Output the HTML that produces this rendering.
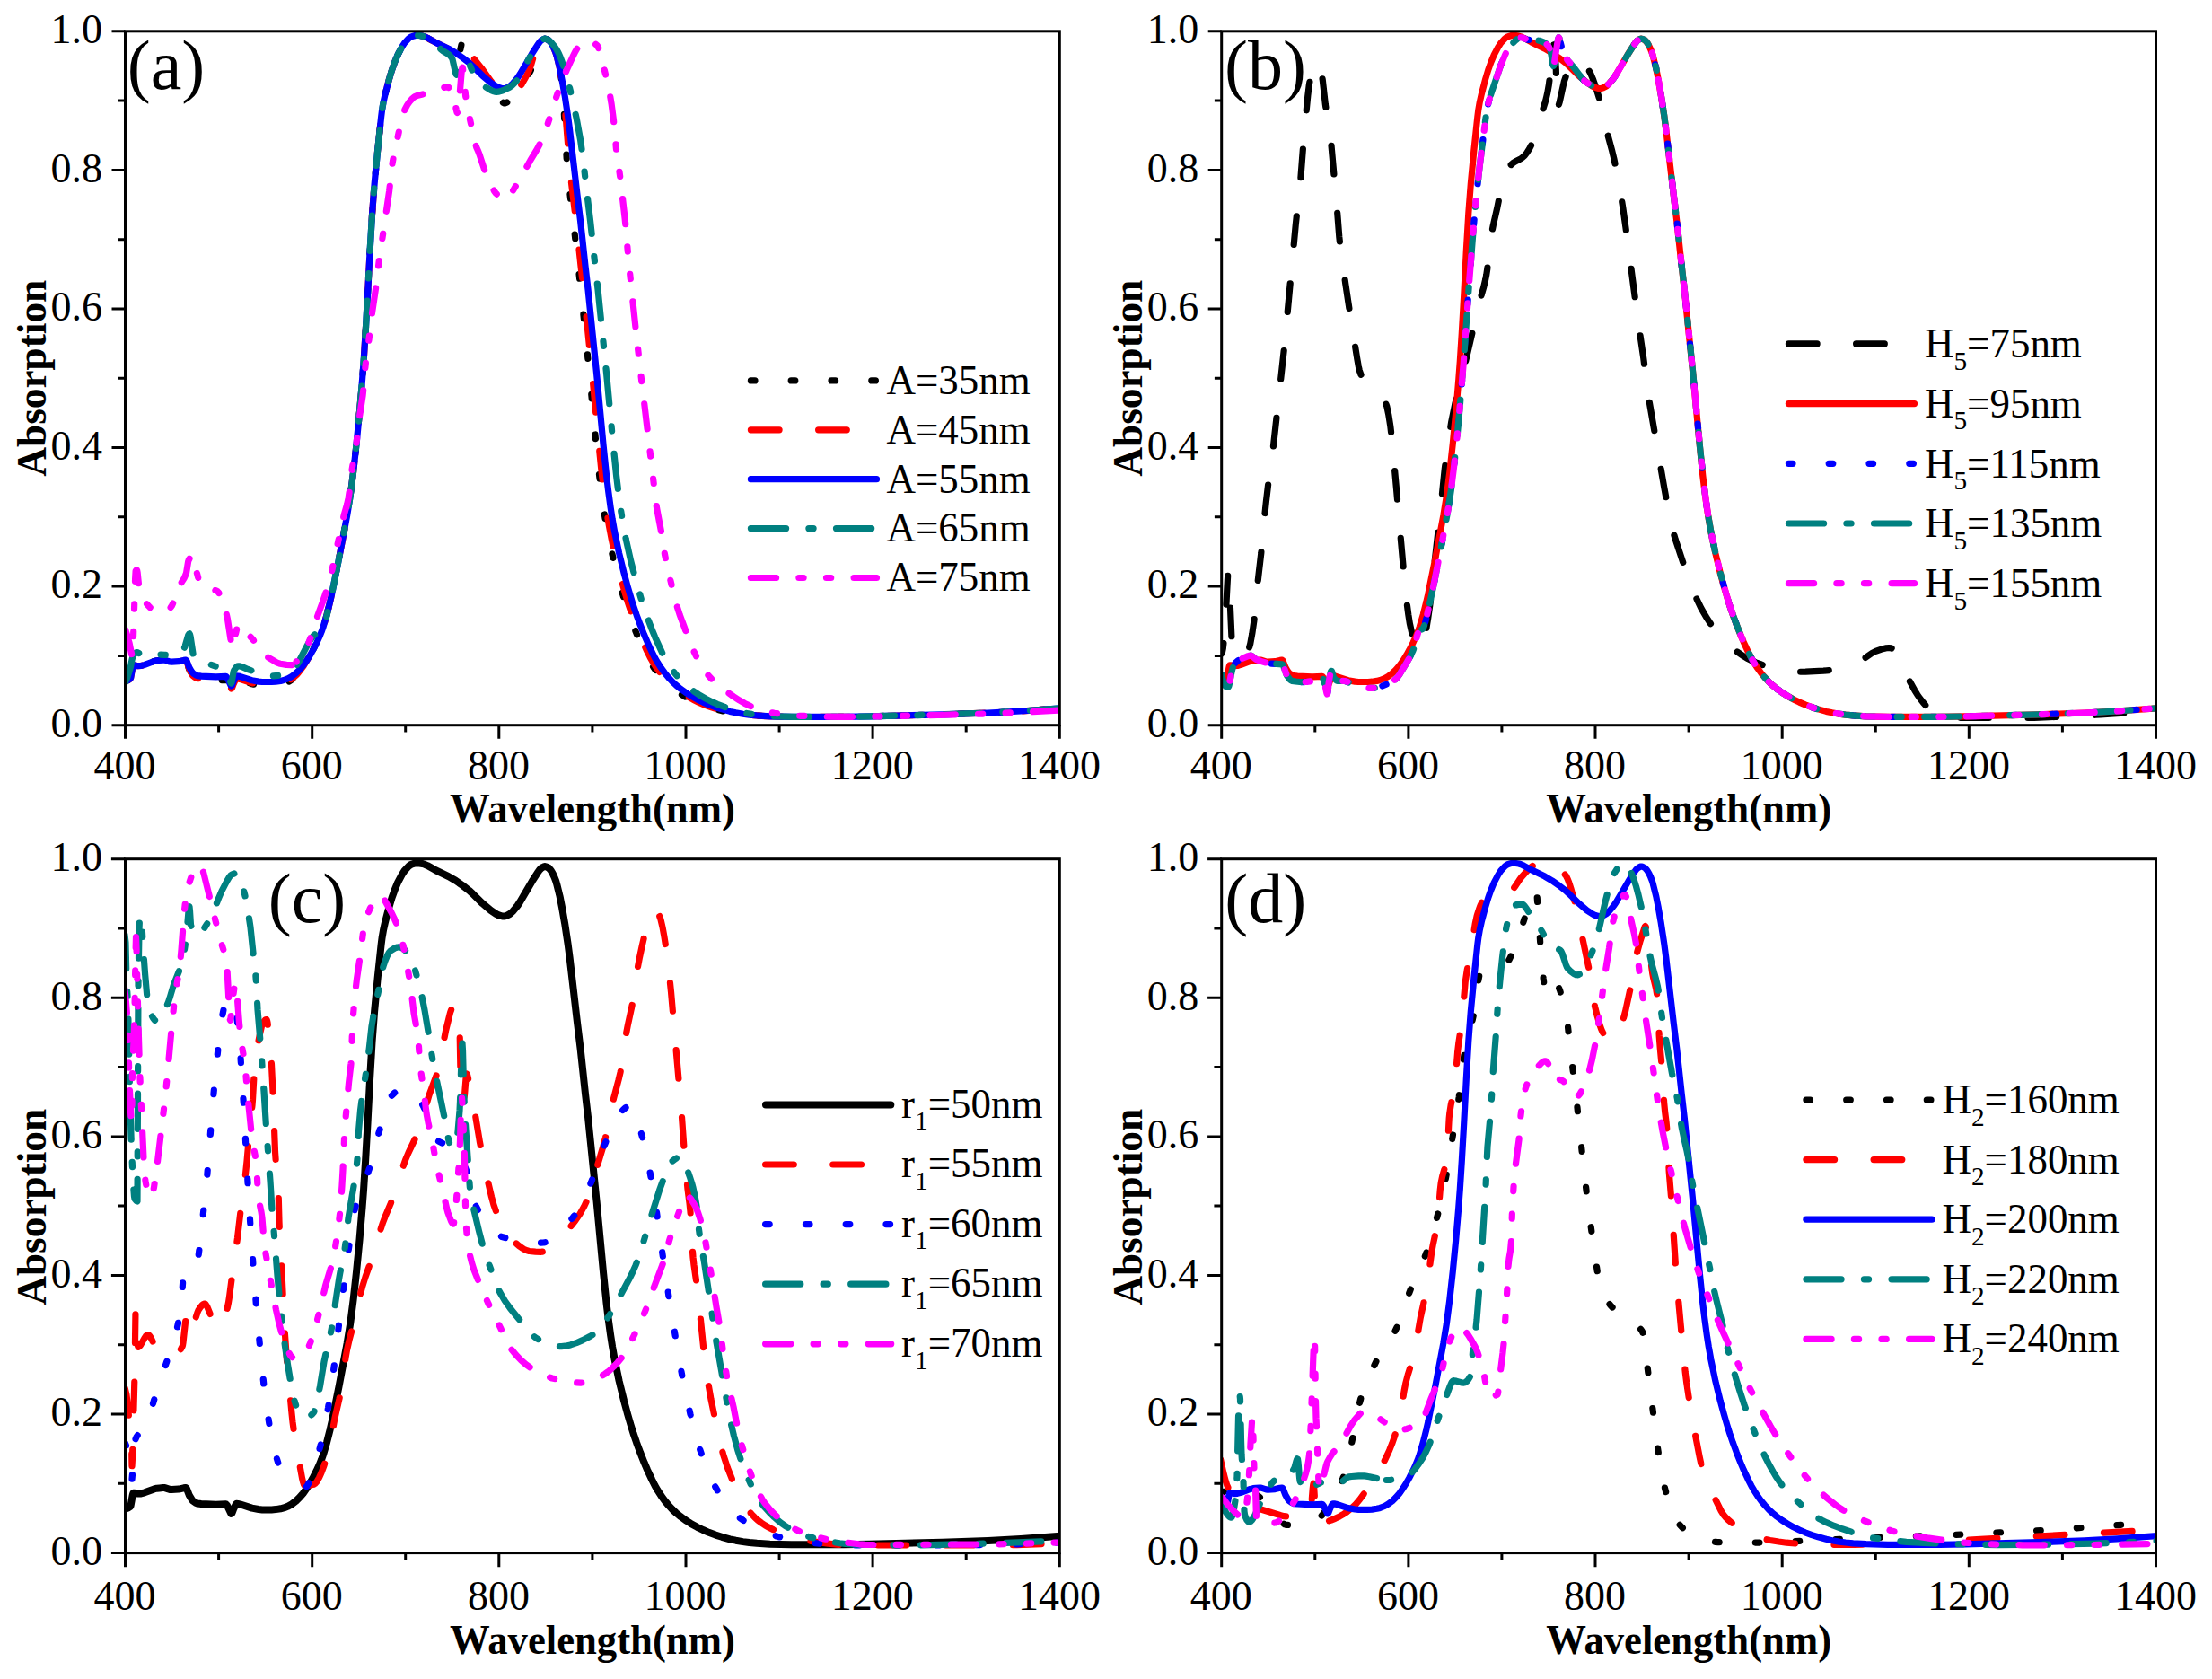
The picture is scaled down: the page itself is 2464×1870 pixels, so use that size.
<!DOCTYPE html>
<html lang="en"><head><meta charset="utf-8"><title>Absorption spectra</title>
<style>
html,body{margin:0;padding:0;background:#fff}
body{width:2464px;height:1870px;overflow:hidden}
svg{display:block}
.tx text{font-family:"Liberation Serif",serif;font-size:46px;fill:#000}
.tx text.bd{font-weight:bold}
.tx text.pl{font-size:78px}
.tx .sb{font-size:30px}
</style></head><body>
<svg width="2464" height="1870" viewBox="0 0 2464 1870">
<rect width="2464" height="1870" fill="#fff"/>
<clipPath id="cpa"><rect x="139.5" y="34.8" width="1040.8" height="772.9"/></clipPath>
<g clip-path="url(#cpa)" fill="none" stroke-linecap="round" stroke-linejoin="round">
<path d="M139.6 758.4 141.1 758.3 143.1 757.4 145.1 756 145.6 755 147.6 744.1 148.1 741.9 148.6 740.8 150.1 740.9 153.6 741.7 157.1 741.5 161.1 740.4 169.1 737.3 172.1 736.3 174.6 735.8 179.1 735.3 183.6 735.2 188.6 736.8 190.6 737.2 194.6 737 204.6 736.1 207.1 736 207.6 736.5 208.1 737.5 210.6 745.2 213.6 751.9 214.6 753.4 217.1 755.4 218.6 756.2 220.1 756.7 223.6 757.1 240.6 757.9 251.6 757.4 252.1 757.7 253.1 759 257.1 767.4 257.6 768 258.1 767.8 258.6 767 260.1 763 262.1 758.7 263.1 757.1 263.6 756.9 265.1 757 267.1 757.4 280.6 761.7 286.6 762.9 290.1 763.4 305.1 763.3 312.6 762.4 316.1 761.5 319.6 760.2 322.1 759 325.1 757 328.1 754.5 330.1 752.5 332.6 749.7 338.1 742.1 347.6 726 354.1 713.1 356.6 707.4 359.1 701 361.1 695 363.1 688.1 368.1 668.4 372.1 649.7 382.1 598.7 387.1 571.4 389.6 556.2 393.1 530.1 396.6 498.9 400.1 463.6 403.1 428.8 405.1 402.5 407.1 371.2 409.6 327.7 412.1 279.7 414.6 237.7 417.1 204.9 420.6 168.1 424.6 130.3 425.6 122.4 427.1 113.7 429.1 104.8 433.6 87.7 436.6 77.8 439.6 69.4 442.1 63.3 444.1 59 447.6 52.5 450.1 48.6 453.6 44.5 456.1 42.2 458.1 40.9 461.1 39.8 463.6 39.3 466.1 39.4 470.6 40.1 473.6 41.1 477.1 42.8 484.6 46.9 503.6 56.4 508.1 58.9 510.6 59.8 511.6 59.7 512.1 58.6 514.1 49.2 514.6 47.7 515.1 47.2 515.6 47.4 516.1 47.9 517.1 49.7 520.1 57.4 521.6 60.2 524.1 63.3 530.6 70 535.1 75.7 539.1 81.1 543.1 87.2 551.1 101.3 558.1 112 559.6 113.7 560.6 114.5 561.6 114.9 562.6 114.9 564.1 114.4 566.1 113 572.6 106 575.1 102.5 581.1 93.2 586.6 85.9 589.1 82.3 591.1 78.7 593.1 74.6 597.1 64.7 598.6 60.4 601.6 48.1 602.6 45.5 603.1 44.9 604.6 43.9 606.1 43.3 607.1 43.2 608.6 43.5 610.6 44.4 612.1 45.7 614.6 49.1 617.6 55.2 619.6 60.6 621.6 67.7 623.6 76.9 625.1 86.5 626.1 95.5 628.1 122.9 629.6 146.9 631.6 184.2 632.6 196.8 639.1 250.6 644.1 297.2 647.1 323 656.6 416.2 664.1 496 667.1 525.4 671.1 557.9 673.1 571.7 675.6 586.7 678.1 599.8 680.6 611.5 686.1 634.5 693.6 661.8 696.6 671.6 700.1 682.1 704.1 693.1 709.1 705.8 713.1 715.2 717.6 724.9 721.1 731.9 724.1 737.2 728.1 743.5 732.6 749.7 737.1 755.1 741.6 759.9 745.6 763.6 750.6 767.6 756.1 771.5 762.1 775.3 769.1 779.2 775.6 782.4 782.6 785.3 789.6 787.8 795.6 789.6 803.6 791.6 811.1 793.2 818.6 794.5 827.6 795.7 836.1 796.5 851.1 797.6 879.1 798.4 938.6 798.4 963.6 798 1048.1 795.8 1100.1 794 1136.6 792 1181 788.8" stroke="#000000" stroke-width="7.2" stroke-dasharray="4.6 40.2"/>
<path d="M139.6 758.4 141.1 758.3 143.1 757.4 145.1 756 145.6 755 147.6 744.1 148.1 741.9 148.6 740.8 150.1 740.9 153.6 741.7 157.1 741.5 161.1 740.4 169.1 737.3 172.1 736.3 174.6 735.8 178.6 735.4 183.6 735.2 188.6 736.8 190.6 737.2 199.1 736.7 204.6 735.9 207.1 735.8 207.6 736.3 208.1 737.2 210.6 744.7 213.1 750 214.6 752.4 217.1 754.3 218.6 755.2 220.1 755.7 223.6 756.1 240.6 756.9 251.6 756.4 252.1 756.7 253.1 758 257.1 766.4 257.6 767 258.1 766.8 258.6 766 260.1 762 262.1 757.7 263.1 756.1 263.6 755.9 265.1 756 267.1 756.4 280.6 760.7 286.6 761.9 290.1 762.4 305.1 762.3 312.6 761.4 316.1 760.5 320.1 759 322.6 757.7 325.1 756 328.6 753.2 330.6 751.3 333.1 748.4 338.6 741 347.6 726 354.1 713.1 356.6 707.4 359.1 701 361.1 695 363.1 688.1 368.1 668.4 372.1 649.7 382.1 598.7 387.1 571.4 389.6 556.2 393.1 530.1 396.6 498.9 400.1 463.6 403.1 428.8 405.1 402.5 407.1 371.2 409.6 327.7 412.1 279.7 414.6 237.7 417.1 204.9 420.6 168.1 424.6 130.3 425.6 122.4 427.1 113.7 429.1 104.8 433.6 87.7 436.6 77.8 439.6 69.4 442.1 63.3 444.1 59 447.6 52.5 450.1 48.6 453.6 44.5 456.1 42.2 458.1 40.9 461.6 39.7 464.1 39.3 466.6 39.4 470.6 40.1 473.6 41.1 477.1 42.8 484.6 46.9 503.6 56.4 506.6 58.3 508.1 58.9 508.6 58.9 509.1 58.6 509.6 57.6 511.6 51.2 512.1 50.4 513.1 50.4 514.6 51.1 516.6 52.8 527.1 64.3 536.6 76.2 546.6 90.1 554.6 99.4 557.6 102.1 561.1 104.2 564.6 105.7 567.1 105.9 568.6 105.5 570.6 104.5 576.1 100.1 578.6 97.4 581.6 93.1 585.6 86 589.6 77.9 591.6 72.2 596.1 56.9 597.6 52.6 598.6 50.5 600.6 47.4 602.6 45.3 605.1 43.7 606.1 43.3 607.1 43.2 608.6 43.5 610.6 44.4 611.6 45.1 613.1 46.9 615.6 50.9 618.6 57.7 620.6 64 623.1 74.3 624.6 82.3 626.1 92.1 628.1 109.7 630.6 135.3 634.6 185.6 635.6 196.1 642.1 250.6 647.1 297.2 650.1 323 659.6 416.2 666.6 490.7 669.6 520.8 671.6 538.5 674.1 557.9 676.1 571.7 678.6 586.7 681.1 599.8 683.6 611.5 689.1 634.5 696.6 661.8 699.6 671.6 703.1 682.1 707.1 693.1 712.1 705.8 716.1 715.2 720.6 724.9 724.1 731.9 727.1 737.2 731.1 743.5 735.6 749.7 740.1 755.1 744.6 759.9 748.6 763.6 753.6 767.6 759.1 771.5 765.1 775.3 772.1 779.2 778.6 782.4 785.6 785.3 792.6 787.8 799.1 789.8 807.6 792 814.6 793.5 822.6 794.8 830.6 795.9 839.1 796.7 852.1 797.6 880.6 798.4 939.1 798.4 965.6 798 1048.6 795.8 1100.6 794 1137.1 792 1181 788.8" stroke="#ff0000" stroke-width="7.2" stroke-dasharray="31.7 43.5"/>
<path d="M139.6 758.4 141.1 758.3 143.1 757.4 145.1 756 145.6 755 147.6 744.1 148.1 741.9 148.6 740.8 150.1 740.9 153.6 741.7 157.1 741.5 161.1 740.4 171.6 736.5 174.6 735.8 177.6 735.5 181.6 735.2 183.6 735.2 189.1 737 191.1 737.2 199.1 736.7 204.6 735.4 206.6 735.2 207.1 735.2 207.6 735.6 208.1 736.5 210.6 743 213.6 748.2 215.1 749.9 217.6 751.6 220.1 752.7 224.1 753.1 240.6 753.9 251.6 753.4 252.1 753.7 253.1 755 257.1 763.4 257.6 764 258.1 763.8 258.6 763 260.1 759 262.1 754.7 263.1 753.1 263.6 752.9 265.1 753 267.1 753.4 280.6 757.7 288.1 759.1 292.1 759.5 302.6 759.5 307.1 759.2 312.6 758.4 316.1 757.5 321.1 755.6 325.1 753.3 329.6 749.9 333.6 746 337.6 741.4 341.6 735.8 345.6 729.4 348.6 724.1 352.6 716.3 355.6 709.8 358.1 703.7 360.1 698.1 364.1 684.4 367.6 670.5 369.6 661.7 377.6 622.1 386.6 574.3 390.1 552.8 393.6 525.9 397.1 494.1 400.6 458.1 403.6 422.5 405.1 402.5 407.1 371.2 409.6 327.7 412.1 279.7 414.6 237.7 417.1 204.9 420.6 168.1 424.6 130.3 425.6 122.4 427.1 113.7 429.1 104.8 433.6 87.7 436.6 77.8 439.6 69.4 443.1 61 447.6 52.5 450.6 47.9 455.1 43 456.6 41.8 458.1 40.9 462.6 39.5 465.6 39.3 470.6 40.1 473.1 40.9 476.1 42.2 484.6 46.9 499.6 54.2 507.6 58.9 515.1 64.1 522.6 69.9 526.6 73.6 537.6 84.4 546.6 92 552.1 95.7 555.1 97.3 559.6 98.6 562.1 98.6 564.6 97.8 568.1 96 571.1 93.2 574.6 89.1 576.6 86.6 579.1 82.8 592.6 59.8 598.6 50.4 601.1 46.9 602.6 45.3 605.1 43.7 606.1 43.3 607.1 43.2 609.1 43.7 611.1 44.7 612.6 46.3 614.1 48.3 615.6 50.9 617.6 55.2 619.1 59.1 620.1 62.4 623.6 76.5 626.1 89.1 629.1 106.3 632.6 129.4 634.6 144.6 643.1 217.7 646.6 246.2 652.1 297.2 655.1 323 664.6 416.2 672.1 496 675.6 529.9 677.6 546.5 680.1 565 682.1 578 684.6 592.1 689.6 616 695.1 638.4 699.1 653.1 702.6 665.1 705.6 674.7 709.1 684.9 713.1 695.7 717.6 707 721.1 715.2 726.1 725.9 729.6 732.8 732.6 738 736.6 744.2 740.6 749.7 744.6 754.5 749.1 759.4 753.1 763.1 758.1 767.2 763.6 771.2 769.6 775 776.6 778.9 783.1 782.1 789.6 784.9 797.1 787.7 804.1 789.9 813.1 792.4 819.6 793.8 827.6 795.2 834.6 796.1 843.1 796.9 857.6 797.8 881.6 798.4 939.6 798.4 968.1 797.9 1049.6 795.8 1100.6 794 1137.1 792 1181 788.8" stroke="#0000ff" stroke-width="7.2"/>
<path d="M139.6 760 142.1 753.8 144.6 745.8 145.6 742 147.1 734.4 148.1 730.8 149.6 728.5 151.1 727 152.1 726.6 153.6 726.9 155.1 727.7 158.1 729.8 160.1 730.6 164.6 730.4 174.6 729.3 179.1 729.1 183.1 729.3 192.6 730.5 195.1 730.6 196.6 730.3 198.6 729.2 200.6 727.5 202.6 725.4 205.1 722.2 206.1 719.8 209.6 707.7 210.6 706 211.1 705.8 211.6 706.8 212.1 708.8 215.1 728.5 215.6 730.6 216.1 731.7 218.6 734.1 220.1 735.1 222.1 736.1 227.6 738.2 234.1 740 241.6 742.6 245.6 744.3 249.6 746.7 252.1 748.9 254.6 752 255.1 753.3 256.6 759.2 257.1 760.5 257.6 761 258.1 759.9 260.1 748.4 260.6 746.8 263.1 743.2 264.1 742.3 265.1 741.8 267.1 741.9 269.1 742.4 276.1 745.5 288.1 749.8 299.1 752.4 303.1 752.9 307.1 752.7 311.6 752.1 317.6 750.8 320.6 749.7 323.6 748 326.1 746.3 328.1 744.2 330.1 741.5 332.6 737.5 342.6 718.2 345.1 713.8 347.1 710.8 349.1 708.2 350.6 706.8 352.1 705.7 357.1 702.7 358.6 701.3 359.6 700.1 361.1 696.7 363.1 689.8 368.6 666.2 372.1 649.7 380.1 609.3 386.6 574.3 389.6 556.2 392.1 538.1 395.1 512.8 398.6 479.3 401.6 446.8 404.1 416 405.6 395.1 407.6 362.7 412.1 279.7 414.6 237.7 416.6 210.8 420.1 173 424.6 130.3 425.6 122.4 426.6 116.3 428.6 106.9 433.1 89.5 436.1 79.3 439.6 69.4 443.1 61 447.6 52.5 449.6 49.3 451.1 47.3 455.6 42.6 457.1 41.5 458.6 40.7 461.6 39.7 463.6 39.3 467.1 39.5 472.6 40.6 475.6 41.6 478.6 43 481.6 44.7 485.1 47.1 486.6 48.7 489.6 53.2 491.1 54.9 493.6 56.8 499.1 60.1 500.6 61.3 502.1 62.9 503.6 65 504.1 66.4 507.1 79.8 508.1 82.8 508.6 83.3 509.1 82.9 509.6 81.3 511.1 73.6 512.1 70 513.6 69.2 516.1 68.4 518.6 68 520.1 68.1 521.6 69.5 523.1 72.1 527.6 82.8 529.1 85.9 530.6 88.1 533.6 91.3 536.1 93.6 539.1 95.9 547.1 100.6 549.1 101.5 551.1 102.1 553.1 102.3 555.1 102.2 557.6 101.6 560.1 100.8 567.1 97.5 570.6 95 574.1 91.4 576.1 89 577.6 86.8 586.1 70.9 592.6 59.8 598.1 51.1 601.1 46.9 602.6 45.3 605.1 43.7 606.1 43.3 607.1 43.2 609.1 43.7 611.6 45 614.6 47.9 617.6 51.6 620.1 55.3 622.1 58.9 624.1 63.4 626.1 68.8 628.6 76.2 630.6 82.9 633.6 94 636.6 106.2 642.1 131.5 646.6 156 649.1 173.8 654.1 217.7 657.6 246.2 663.1 297.2 666.1 323 675.6 416.2 683.1 496 686.6 529.9 689.1 550.4 691.6 568.4 694.1 583.9 697.1 599.8 702.6 624.5 708.6 647.7 715.1 670 721.1 687.7 725.6 699.6 729.6 709.4 737.6 727 740.6 732.8 743.6 738 747.6 744.2 751.6 749.7 755.6 754.5 760.1 759.4 764.1 763.1 768.6 766.8 774.1 770.8 779.6 774.4 786.1 778.1 792.6 781.4 799.1 784.3 806.6 787.2 814.1 789.7 824.1 792.7 829.1 793.9 837.1 795.4 851.1 797.1 866.1 797.9 884.6 798.4 940.6 798.4 971.1 797.9 1050.1 795.8 1101.1 794 1137.1 792 1181 788.8" stroke="#008080" stroke-width="7.2" stroke-dasharray="39.2 25.3 5.2 25.4"/>
<path d="M139.6 701.2 141.6 707.4 144.1 716.2 146.6 728.6 147.1 730.3 147.6 731.1 148.1 723.3 150.6 644.8 151.1 636.1 151.6 635.2 152.1 635 152.6 635.1 153.1 637.4 154.6 652 155.1 655.8 155.6 657.8 157.6 663.4 160.1 668 162.6 671.5 165.1 674.5 167.1 676.5 169.1 678 173.1 679.9 176.6 681.1 179.6 681.5 182.1 681.2 185.1 680 188.6 677.8 190.1 676.6 191.6 674.4 193.6 669.8 197.6 658.2 199.6 653.2 201.1 650.3 205.1 644.1 207.1 639.5 207.6 637.9 209.6 625.6 210.1 624 212.1 620.2 213.1 619.1 214.1 618.7 214.6 619.3 215.6 622.4 217.6 631.6 221.1 644.8 222.1 647.8 223.1 649.6 225.6 651.7 228.1 653.1 234.6 655.7 239.6 657.3 242.1 658.5 243.6 660 245.6 663.8 249.6 674.1 252.1 683.1 253.6 690.3 257.6 716.3 258.6 720.9 259.1 721.5 259.6 720.6 260.1 718.6 261.6 709.7 264.1 698.9 265.1 696.2 265.6 695.7 266.1 695.7 267.1 696.2 268.1 697 273.6 704.1 279.6 709.9 282.1 712.7 284.1 715.7 288.1 722.7 290.1 725.6 292.6 728 296.1 730.6 307.1 737.2 309.6 738.4 312.1 739.2 319.1 740.4 324.6 740.7 325.6 740.5 327.1 739.7 329.6 737.5" stroke="#ff00ff" stroke-width="7.2" stroke-dasharray="28.2 25.3 5.2 25.4 5.2 25.4"/>
<path d="M330.1 736.9 335.6 730.3 338.1 726.7 341.1 721.5 344.1 715.3 346.6 708.5 352.6 689.2 359.6 670 362.6 661.1 366.6 647.6 370.1 634.1 381.1 582.4 383.1 574.1 386.6 561.8 388.1 554.9 389.1 548.2 392.1 523 397.1 492.8 400.6 463.4 404.1 440.4 405.1 430.7 406.6 411.6 407.6 402.4 411.1 377.4 414.6 348 418.6 320.9 422.1 291.6 433.6 212.9 437.1 181.8 439.1 170.4 443.1 152.6 447.1 133.6 448.6 128 451.1 121.7 453.6 117 456.1 113.4 459.6 109.5 461.1 108.3 462.6 107.3 465.6 106.2 479.1 103 485.1 101.5 487.6 100.5 494.1 97.6 496.1 97.1 498.1 96.9 499.6 97.3 501.6 98.7 504.1 101.3 504.6 102.3 505.6 106.6 508.1 121.6 509.1 125.3 509.6 125.8 510.1 124.4 510.6 120.8 512.6 99.4 514.1 80.6 514.6 76.5 515.1 75.2 515.6 76.7 516.1 79.9 518.6 106.6 520.1 116.5 522.1 126.6 528.1 154 530.6 163.7 532.6 168.2 534.1 172.1 540.6 192 545.1 202.3 548.6 209.4 550.6 212.8 552.1 214.9 556.6 219.6 558.6 221.2 560.1 222 561.6 222.3 562.6 222.2 564.1 221.3 565.6 219.8 569.1 215.7 571.6 212 579.6 198.5 590.6 178.9 598.6 165.6 603.1 157.1 605.1 152.6 607.6 145.9 620.1 106.9 624.6 94.3 631.1 78.3 638.1 62.9 640.6 57.9 642.6 54.5 644.1 52.4 647.6 49.2 650.1 47.3 652.1 46.2 654.1 45.6 655.6 45.5 657.1 45.7 659.1 46.4 661.1 47.5 663.1 48.9 665.1 50.5 665.6 51.2 667.1 54.3 669.6 62.7 676.6 91.6 679.1 103.7 681.1 115.6 683.6 134.8 686.6 167.3 690.6 195.8 696.1 243.3 697.1 253.3 699.1 277.8 701.6 304.1 709.1 375.5 714.6 423.4 726.1 519.9 730.1 555.2 731.6 566 736.6 592.4 740.6 618.1 743.6 632.6 751.1 664.2 753.6 673.6 757.1 684.5 767.6 712.7 772.1 723.8 775.6 731 779.1 737.5 782.1 742.7 785.1 747.2 788.1 751.2 792.6 756.1 797.1 760.5 801.6 764.4 808.1 769.3 817.1 775.7 823.6 779.9 829.6 783.4 834.1 785.6 838.1 787.3 845.6 789.9 852.6 792 857.6 793.3 862.6 794.3 876.6 796.1 891.1 797.3 917.1 798.2 936.1 798.4 963.6 798.2 1044.6 796.5 1099.1 795 1136.1 793.5 1181 791" stroke="#ff00ff" stroke-width="7.2" stroke-dasharray="28.2 25.3 5.2 25.4 5.2 25.4" stroke-dashoffset="58.6"/>
</g>
<clipPath id="cpb"><rect x="1360.7" y="34.8" width="1040.8" height="772.9"/></clipPath>
<g clip-path="url(#cpb)" fill="none" stroke-linecap="round" stroke-linejoin="round">
<path d="M1360.8 727.9 1361.3 727.2 1362.3 722.3 1364.3 704.1 1367.3 647 1367.8 639.3 1368.3 637.6 1368.8 641.9 1369.3 650.3 1372.3 718.2 1372.8 722.7 1373.8 726 1375.3 729.1 1375.8 729.6 1376.8 730.2 1380.3 731 1383.8 731.3 1384.8 731.1 1386.3 730.2 1387.3 729.1 1388.8 726.9 1391.3 722.2 1392.8 716.7 1394.8 705.7 1396.8 692.1 1397.8 683.8 1400.8 650.4 1404.8 616 1408.3 578.4 1410.3 559.4 1412.8 538.4 1418.3 498.4 1430.3 389.6 1443.3 250 1448.8 199.3 1452.8 147.7 1456.8 106.6 1458.3 94.4 1459.8 86.7 1462.3 76.1 1463.3 72.9 1464.3 70.7 1465.3 69.6 1465.8 69.5 1466.3 69.7 1467.3 70.6 1468.3 72.3 1469.8 75.9 1471.3 80.5 1472.8 86.1 1473.3 89.1 1476.3 115.9 1480.8 144.4 1482.8 159.8 1489.3 231.9 1491.8 263.8 1493.3 277.4 1498.8 316.2 1504.3 352.8 1511.8 399.8 1513.3 408.2 1514.3 412.6 1515.8 416.9 1518.3 422 1520.8 425.8 1523.3 429 1526.8 432.9 1534.3 439.3 1539.8 444.5 1541.3 446.1 1542.8 448.1 1543.8 449.9 1544.8 452.6 1546.8 461.9 1548.8 474.7 1550.3 487.9 1555.8 547.8 1559.3 588.9 1564.8 649.9 1567.3 673.1 1568.8 684.5 1570.3 694.1 1573.3 707.7 1574.8 713.6 1576.3 718.4 1577.8 721.3 1578.3 721.8 1578.8 722 1579.3 721.9 1580.3 721.4 1581.3 720.4 1582.3 718.9 1584.3 714.9 1586.8 708.7 1587.8 705 1588.8 700.1 1590.8 687.8 1592.8 674 1594.3 661.8 1598.3 624.2 1604.8 566.4 1609.3 522.1 1613.3 491.3 1616.8 469.4 1620.8 450 1629.8 414.3 1646.3 343.6 1648.8 333.5 1652.8 319.4 1654.8 310.9 1655.8 305.8 1656.8 299.1 1659.8 271.3 1661.3 261.1 1663.3 251 1667.8 231.4 1673.3 203.5 1674.8 197.6 1675.8 194.7 1677.8 190.7 1680.3 186.8 1682.8 183.9 1685.3 181.6 1687.8 180 1694.3 176.6 1696.3 175.1 1698.3 173.3 1700.8 170.1 1703.8 165.3 1706.8 159.5 1708.3 155.7 1710.3 149.5 1715.3 132.3 1720.8 115.2 1722.3 109.7 1723.8 103.1 1725.3 94.6 1727.3 79 1728.3 70.2 1729.8 51.6 1730.3 48.3 1730.8 48.7 1731.3 51.5 1732.8 69.2 1733.3 77.2 1734.3 110.9 1734.8 120.3 1735.3 119.9 1735.8 118.5 1737.3 113.4 1742.3 90.8 1745.8 80.7 1748.3 75.3 1751.3 70.8 1752.8 68.8 1754.3 67.3 1755.3 66.6 1756.3 66.2 1757.8 66.3 1759.3 66.8 1761.3 67.9 1763.8 69.7 1765.8 71.7 1768.3 75.4 1771.8 81.9 1774.3 87.8 1777.8 97.8 1781.3 109.1 1785.3 124.5 1790.8 149.8 1795.8 168.3 1797.8 176.6 1801.3 193.5 1805.3 215.6 1807.8 231.4 1810.8 252.4 1825.3 362.1 1830.8 399.3 1834.8 431.4 1836.3 442.1 1853.8 543.2 1858.8 570.1 1861.8 584.5 1863.8 592.4 1866.3 600.9 1878.8 638.5 1883.8 652.6 1888.8 664.6 1894.8 677.1 1900.3 686.8 1905.3 694.4 1909.8 700.7 1914.3 706.6 1918.8 711.9 1922.3 715.5 1925.3 718.3 1934.3 725.4 1942.8 731.2 1947.3 733.8 1951.3 735.8 1955.8 737.8 1961.8 740 1970.3 742.9 1977.3 745.1 1986.8 747.3 1991.3 748 1995.3 748.3 2011.3 748.2 2031.3 747.2 2038.3 746.5 2045.3 745.1 2050.8 743.6 2057.3 741.5 2072.3 735.8 2076.3 733.6 2085.3 727.4 2089.3 725.4 2095.8 723.1 2100.3 721.9 2104.3 721.5 2106.8 721.9 2109.3 723.1 2111.8 724.9 2115.8 728.7 2117.3 730.8 2118.3 732.8 2119.8 736.6 2124.8 752.2 2127.3 758.7 2132.8 768.8 2135.8 773.7 2138.8 778 2142.3 782.5 2147.8 788.7 2150.3 791.4 2152.8 793.7 2154.8 795.1 2156.8 796.1 2161.8 797.2 2173.8 798.7 2186.3 799.5 2251.3 799.5 2265.8 799.3 2289.8 798.4 2339.8 796 2369.8 794 2402.5 791.5" stroke="#000000" stroke-width="7.2" stroke-dasharray="31.7 43.5" stroke-dashoffset="20"/>
<path d="M1360.8 758.4 1362.3 758.3 1364.3 757.4 1366.3 756 1366.8 755 1368.8 744.1 1369.3 741.9 1369.8 740.8 1371.3 740.9 1374.8 741.7 1378.3 741.5 1382.3 740.4 1392.8 736.5 1395.8 735.8 1398.8 735.5 1402.8 735.2 1404.8 735.2 1410.3 737 1412.3 737.2 1420.3 736.7 1425.8 735.4 1427.8 735.2 1428.3 735.2 1428.8 735.6 1429.3 736.5 1431.8 743 1434.8 748.2 1436.3 749.9 1438.8 751.6 1441.3 752.7 1445.3 753.1 1461.8 753.9 1472.8 753.4 1473.3 753.7 1474.3 755 1478.3 763.4 1478.8 764 1479.3 763.8 1479.8 763 1481.3 759 1483.3 754.7 1484.3 753.1 1484.8 752.9 1486.3 753 1488.3 753.4 1501.8 757.7 1509.3 759.1 1513.3 759.5 1523.8 759.5 1528.3 759.2 1533.8 758.4 1537.3 757.5 1542.3 755.6 1546.3 753.3 1550.8 749.9 1554.8 746 1558.8 741.4 1562.8 735.8 1566.8 729.4 1569.8 724.1 1573.8 716.3 1576.8 709.8 1579.3 703.7 1581.3 698.1 1585.3 684.4 1588.8 670.5 1590.8 661.7 1598.8 622.1 1607.8 574.3 1611.3 552.8 1614.8 525.9 1618.3 494.1 1621.8 458.1 1624.8 422.5 1626.3 402.5 1628.3 371.2 1630.8 327.7 1633.3 279.7 1635.8 237.7 1638.3 204.9 1641.8 168.1 1645.8 130.3 1646.8 122.4 1648.3 113.7 1650.3 104.8 1654.8 87.7 1657.8 77.8 1660.8 69.4 1664.3 61 1668.8 52.5 1671.8 47.9 1676.3 43 1677.8 41.8 1679.3 40.9 1683.8 39.5 1686.8 39.3 1691.8 40.1 1694.3 40.9 1697.3 42.2 1705.8 46.9 1720.8 54.2 1728.8 58.9 1736.3 64.1 1743.8 69.9 1747.8 73.6 1758.8 84.4 1767.8 92 1773.3 95.7 1776.3 97.3 1780.8 98.6 1783.3 98.6 1785.8 97.8 1789.3 96 1792.3 93.2 1795.8 89.1 1797.8 86.6 1800.3 82.8 1813.8 59.8 1819.8 50.4 1822.3 46.9 1823.8 45.3 1826.3 43.7 1827.3 43.3 1828.3 43.2 1830.3 43.7 1832.3 44.7 1833.8 46.3 1835.3 48.3 1836.8 50.9 1838.8 55.2 1840.3 59.1 1841.3 62.4 1844.8 76.5 1847.3 89.1 1850.3 106.3 1853.8 129.4 1855.8 144.6 1864.3 217.7 1867.8 246.2 1873.3 297.2 1876.3 323 1885.8 416.2 1893.3 496 1896.8 529.9 1898.8 546.5 1901.3 565 1903.3 578 1905.8 592.1 1910.8 616 1916.3 638.4 1920.3 653.1 1923.8 665.1 1926.8 674.7 1930.3 684.9 1934.3 695.7 1938.8 707 1942.3 715.2 1947.3 725.9 1950.8 732.8 1953.8 738 1957.8 744.2 1961.8 749.7 1965.8 754.5 1970.3 759.4 1974.3 763.1 1979.3 767.2 1984.8 771.2 1990.8 775 1997.8 778.9 2004.3 782.1 2010.8 784.9 2018.3 787.7 2025.3 789.9 2034.3 792.4 2040.8 793.8 2048.8 795.2 2055.8 796.1 2064.3 796.9 2078.8 797.8 2102.8 798.4 2160.8 798.4 2189.3 797.9 2270.8 795.8 2321.8 794 2358.3 792 2402.2 788.8" stroke="#ff0000" stroke-width="7.2"/>
<path d="M1360.8 751.7 1362.3 758.4 1363.8 762.4 1364.8 763.9 1365.8 764.8 1366.8 765.1 1368.3 765.2 1368.8 764.2 1369.3 762.4 1371.3 751.6 1372.8 745.2 1373.8 741.6 1374.3 740.4 1377.3 737.2 1379.3 735.6 1381.3 734.4 1390.3 730.7 1391.8 730.3 1393.3 730.2 1394.8 730.8 1398.3 733.7 1399.8 734.7 1404.3 736.4 1408.3 737.6 1412.3 738.6 1415.8 739.1 1428.3 739.8 1428.8 740.2 1429.8 742.1 1432.8 750.8 1433.8 752.8 1436.8 756.7 1438.3 758 1439.3 758.4 1443.3 759 1447.8 759.5 1452.3 759.6 1455.8 759.4 1463.8 758.3 1470.8 756 1473.3 755.6 1473.8 755.9 1474.8 758.7 1475.8 762.3 1477.8 771.8 1478.3 773 1478.8 772.4 1480.3 759.2 1481.3 753.3 1482.3 748.5 1482.8 747.3 1483.3 747.3 1483.8 748.4 1485.3 753.8 1485.8 755 1487.8 757.2 1489.3 758.2 1490.3 758.4 1497.8 758.5 1499.3 758.8 1501.8 759.7 1507.3 762.5 1513.8 765 1516.8 766 1519.3 766.4 1532.3 766.3 1534.8 765.8 1537.8 764.8 1546.8 761.2 1551.8 758.4 1554.3 756.7 1555.8 755.3 1558.8 751.3 1567.8 736.6 1570.8 731.1 1573.8 725 1575.8 719.8 1578.8 707.3 1580.3 702.7 1580.8 702 1581.3 701.6 1583.8 700.9 1584.8 700.3 1585.8 698.8 1587.3 694.5 1588.8 688.7 1594.3 664.3 1597.3 650 1606.3 604.4 1613.3 566 1616.3 546.2 1619.3 522.2 1622.3 494.6 1625.3 463.4 1630.3 403.9 1636.3 318.1 1641.3 254 1644.3 220.6 1648.3 184.3 1654.8 132.6 1656.8 119.8 1658.3 113.3 1660.3 106.3 1671.3 73.9 1676.8 60.5 1678.8 56.5 1680.3 54.1 1684.8 48.5 1688.3 44.8 1691.3 42.6 1692.8 42 1694.3 41.8 1696.3 42.1 1700.8 43.9 1702.8 44.4 1712.3 44.9 1715.3 45.4 1719.3 46.9 1721.8 48.3 1722.8 49.1 1724.8 51.5 1726.8 55.2 1727.8 59.6 1729.3 69.7 1729.8 72.2 1730.3 73.4 1730.8 73.1 1731.3 71.3 1733.8 54 1735.3 45.1 1735.8 42.8 1736.3 41.8 1736.8 42.2 1737.3 43.5 1739.3 51.8 1741.8 59.4 1743.3 62.8 1746.3 67.3 1753.3 75.3 1762.3 87.3 1764.3 89.4 1766.3 91.2 1775.3 96.7 1777.3 97.6 1780.3 98.5 1782.3 98.7 1783.8 98.5 1787.8 96.9 1789.8 95.6 1792.8 92.7 1796.8 88 1800.3 82.9 1813.8 59.9 1819.8 50.5 1822.3 47 1823.8 45.3 1826.3 43.7 1827.3 43.3 1828.3 43.2 1830.3 43.6 1832.3 44.6 1833.8 46.2 1835.3 48.2 1836.8 50.8 1838.3 53.9 1840.3 58.9 1841.3 62.1 1844.8 76.2 1847.3 88.7 1850.3 105.9 1853.8 128.9 1856.3 148.2 1864.3 217.1 1867.8 245.6 1873.3 296.6 1876.3 322.4 1885.8 415.5 1893.3 495.3 1896.8 529.3 1898.8 546 1901.3 564.5 1903.3 577.6 1905.8 591.8 1910.8 615.7 1916.3 638.1 1923.8 664.9 1926.8 674.5 1930.3 684.7 1934.3 695.5 1938.8 706.9 1942.3 715 1947.3 725.8 1950.8 732.7 1953.8 737.9 1957.8 744.1 1961.8 749.6 1965.8 754.5 1970.3 759.3 1974.3 763.1 1979.3 767.2 1984.8 771.1 1990.8 774.9 1997.8 778.9 2004.3 782.1 2010.8 784.9 2018.3 787.7 2025.3 789.9 2034.3 792.3 2040.8 793.8 2048.8 795.1 2055.8 796.1 2064.3 796.9 2078.3 797.8 2102.8 798.4 2161.3 798.4 2189.3 797.9 2270.8 795.8 2321.8 794 2358.3 792 2402.2 788.8" stroke="#0000ff" stroke-width="7.2" stroke-dasharray="4.6 40.2"/>
<path d="M1360.8 751.7 1362.3 758.4 1363.8 762.4 1364.8 763.9 1365.8 764.8 1366.8 765.1 1368.3 765.2 1368.8 764.2 1369.3 762.4 1371.3 751.6 1372.8 745.2 1373.8 741.6 1374.3 740.4 1377.3 737.2 1379.3 735.6 1381.3 734.4 1390.3 730.7 1391.8 730.3 1393.3 730.2 1394.8 730.8 1398.3 733.7 1399.8 734.7 1404.3 736.4 1408.3 737.6 1412.3 738.6 1415.8 739.1 1428.3 739.8 1428.8 740.2 1429.8 742.1 1432.8 750.8 1433.8 752.8 1436.8 756.7 1438.3 758 1439.3 758.4 1443.3 759 1447.8 759.5 1452.3 759.6 1455.8 759.4 1463.8 758.3 1470.8 756 1473.3 755.6 1473.8 755.9 1474.8 758.7 1475.8 762.3 1477.8 771.8 1478.3 773 1478.8 772.4 1480.3 759.2 1481.3 753.3 1482.3 748.5 1482.8 747.3 1483.3 747.3 1483.8 748.4 1485.3 753.8 1485.8 755 1487.8 757.2 1489.3 758.2 1490.3 758.4 1497.8 758.5 1499.3 758.8 1501.8 759.7 1507.3 762.5 1513.8 765 1516.8 766 1519.3 766.4 1532.3 766.3 1534.8 765.8 1537.8 764.8 1546.8 761.2 1551.8 758.4 1554.3 756.7 1555.8 755.3 1558.8 751.3 1567.8 736.6 1570.8 731.1 1573.8 725 1575.8 719.8 1578.8 707.3 1580.3 702.7 1580.8 702 1581.3 701.6 1583.8 700.9 1584.8 700.3 1585.8 698.8 1587.3 694.5 1588.8 688.7 1594.3 664.3 1597.3 650 1606.3 604.4 1613.3 566 1616.3 546.2 1619.3 522.2 1622.3 494.6 1625.3 463.4 1630.3 403.9 1636.3 318.1 1641.3 254 1644.3 220.6 1648.3 184.3 1654.8 132.6 1656.8 119.8 1658.3 113.3 1660.3 106.3 1671.3 73.9 1676.8 60.5 1678.8 56.5 1680.3 54.1 1684.8 48.5 1688.3 44.8 1691.3 42.6 1692.8 42 1694.3 41.8 1696.3 42.1 1700.8 43.9 1702.8 44.4 1712.3 44.9 1715.3 45.4 1719.3 46.9 1721.8 48.3 1722.8 49.1 1724.8 51.5 1726.8 55.2 1727.8 59.6 1729.3 69.7 1729.8 72.2 1730.3 73.4 1730.8 73.1 1731.3 71.3 1733.8 54 1735.3 45.1 1735.8 42.8 1736.3 41.8 1736.8 42.2 1737.3 43.5 1739.3 51.8 1741.8 59.4 1743.3 62.8 1746.3 67.3 1753.3 75.3 1762.3 87.3 1764.3 89.4 1766.3 91.2 1775.3 96.7 1777.3 97.6 1780.3 98.5 1782.3 98.7 1783.8 98.5 1787.8 96.9 1789.8 95.6 1792.8 92.7 1796.8 88 1800.3 82.9 1813.8 59.9 1819.8 50.5 1822.3 47 1823.8 45.3 1826.3 43.7 1827.3 43.3 1828.3 43.2 1830.3 43.6 1832.3 44.6 1833.8 46.2 1835.3 48.2 1836.8 50.8 1838.3 53.9 1840.3 58.9 1841.3 62.1 1844.8 76.2 1847.3 88.7 1850.3 105.9 1853.8 128.9 1856.3 148.2 1864.3 217.1 1867.8 245.6 1873.3 296.6 1876.3 322.4 1885.8 415.5 1893.3 495.3 1896.8 529.3 1898.8 546 1901.3 564.5 1903.3 577.6 1905.8 591.8 1910.8 615.7 1916.3 638.1 1923.8 664.9 1926.8 674.5 1930.3 684.7 1934.3 695.5 1938.8 706.9 1942.3 715 1947.3 725.8 1950.8 732.7 1953.8 737.9 1957.8 744.1 1961.8 749.6 1965.8 754.5 1970.3 759.3 1974.3 763.1 1979.3 767.2 1984.8 771.1 1990.8 774.9 1997.8 778.9 2004.3 782.1 2010.8 784.9 2018.3 787.7 2025.3 789.9 2034.3 792.3 2040.8 793.8 2048.8 795.1 2055.8 796.1 2064.3 796.9 2078.3 797.8 2102.8 798.4 2161.3 798.4 2189.3 797.9 2270.8 795.8 2321.8 794 2358.3 792 2402.2 788.8" stroke="#008080" stroke-width="7.2" stroke-dasharray="39.2 25.3 5.2 25.4"/>
<path d="M1360.8 751.7 1362.3 758.4 1363.8 762.4 1364.8 763.9 1365.8 764.8 1366.8 765.1 1368.3 765.2 1368.8 764.2 1369.3 762.4 1371.3 751.6 1372.8 745.2 1373.8 741.6 1374.3 740.4 1377.3 737.2 1379.3 735.6 1381.3 734.4 1390.3 730.7 1391.8 730.3 1393.3 730.2 1394.8 730.8 1398.3 733.7 1399.8 734.7 1404.3 736.4 1408.3 737.6 1412.3 738.6 1415.8 739.1 1428.3 739.8 1428.8 740.2 1429.8 742.1 1432.8 750.8 1433.8 752.8 1436.8 756.7 1438.3 758 1439.3 758.4 1443.3 759 1447.8 759.5 1452.3 759.6 1455.8 759.4 1463.8 758.3 1470.8 756 1473.3 755.6 1473.8 755.9 1474.8 758.7 1475.8 762.3 1477.8 771.8 1478.3 773 1478.8 772.4 1480.3 759.2 1481.3 753.3 1482.3 748.5 1482.8 747.3 1483.3 747.3 1483.8 748.4 1485.3 753.8 1485.8 755 1487.8 757.2 1489.3 758.2 1490.3 758.4 1497.8 758.5 1499.3 758.8 1501.8 759.7 1507.3 762.5 1513.8 765 1516.8 766 1519.3 766.4 1532.3 766.3 1534.8 765.8 1537.8 764.8 1546.8 761.2 1551.8 758.4 1554.3 756.7 1555.8 755.3 1558.8 751.3 1567.8 736.6 1570.8 731.1 1573.8 725 1575.8 719.8 1578.8 707.3 1580.3 702.7 1580.8 702 1581.3 701.6 1583.8 700.9 1584.8 700.3 1585.8 698.8 1587.3 694.5 1588.8 688.7 1594.3 664.3 1597.3 650 1606.3 604.4 1613.3 566 1616.3 546.2 1619.3 522.2 1622.3 494.6 1625.3 463.4 1630.3 403.9 1636.3 318.1 1641.3 254 1644.3 220.6 1648.3 184.3 1654.8 132.6 1656.8 119.8 1658.3 113.3 1660.3 106.3 1671.3 73.9 1676.8 60.5 1678.8 56.5 1680.3 54.1 1684.8 48.5 1688.3 44.8 1691.3 42.6 1692.8 42 1694.3 41.8 1696.3 42.1 1700.8 43.9 1702.8 44.4 1712.3 44.9 1715.3 45.4 1719.3 46.9 1721.8 48.3 1722.8 49.1 1724.8 51.5 1726.8 55.2 1727.8 59.6 1729.3 69.7 1729.8 72.2 1730.3 73.4 1730.8 73.1 1731.3 71.3 1733.8 54 1735.3 45.1 1735.8 42.8 1736.3 41.8 1736.8 42.2 1737.3 43.5 1739.3 51.8 1741.8 59.4 1743.3 62.8 1746.3 67.3 1753.3 75.3 1762.3 87.3 1764.3 89.4 1766.3 91.2 1775.3 96.7 1777.3 97.6 1780.3 98.5 1782.3 98.7 1783.8 98.5 1787.8 96.9 1789.8 95.6 1792.8 92.7 1796.8 88 1800.3 82.9 1813.8 59.9 1819.8 50.5 1822.3 47 1823.8 45.3 1826.3 43.7 1827.3 43.3 1828.3 43.2 1830.3 43.6 1832.3 44.6 1833.8 46.2 1835.3 48.2 1836.8 50.8 1838.3 53.9 1840.3 58.9 1841.3 62.1 1844.8 76.2 1847.3 88.7 1850.3 105.9 1853.8 128.9 1856.3 148.2 1864.3 217.1 1867.8 245.6 1873.3 296.6 1876.3 322.4 1885.8 415.5 1893.3 495.3 1896.8 529.3 1898.8 546 1901.3 564.5 1903.3 577.6 1905.8 591.8 1910.8 615.7 1916.3 638.1 1923.8 664.9 1926.8 674.5 1930.3 684.7 1934.3 695.5 1938.8 706.9 1942.3 715 1947.3 725.8 1950.8 732.7 1953.8 737.9 1957.8 744.1 1961.8 749.6 1965.8 754.5 1970.3 759.3 1974.3 763.1 1979.3 767.2 1984.8 771.1 1990.8 774.9 1997.8 778.9 2004.3 782.1 2010.8 784.9 2018.3 787.7 2025.3 789.9 2034.3 792.3 2040.8 793.8 2048.8 795.1 2055.8 796.1 2064.3 796.9 2078.3 797.8 2102.8 798.4 2161.3 798.4 2189.3 797.9 2270.8 795.8 2321.8 794 2358.3 792 2402.2 788.8" stroke="#ff00ff" stroke-width="7.2" stroke-dasharray="28.2 25.3 5.2 25.4 5.2 25.4" stroke-dashoffset="60"/>
</g>
<clipPath id="cpc"><rect x="139.5" y="956.7" width="1040.8" height="772.9"/></clipPath>
<g clip-path="url(#cpc)" fill="none" stroke-linecap="round" stroke-linejoin="round">
<path d="M139.6 1680.3 141.1 1680.2 143.1 1679.3 145.1 1677.9 145.6 1676.9 147.6 1666 148.1 1663.8 148.6 1662.7 150.1 1662.8 153.6 1663.6 157.1 1663.4 161.1 1662.3 171.6 1658.4 174.6 1657.7 177.6 1657.4 181.6 1657.1 183.6 1657.1 189.1 1658.9 191.1 1659.1 199.1 1658.6 204.6 1657.3 206.6 1657.1 207.1 1657.1 207.6 1657.5 208.1 1658.4 210.6 1664.9 213.6 1670.1 215.1 1671.8 217.6 1673.5 220.1 1674.6 224.1 1675 240.6 1675.8 251.6 1675.3 252.1 1675.6 253.1 1676.9 257.1 1685.3 257.6 1685.9 258.1 1685.7 258.6 1684.9 260.1 1680.9 262.1 1676.6 263.1 1675 263.6 1674.8 265.1 1674.9 267.1 1675.3 280.6 1679.6 288.1 1681 292.1 1681.4 302.6 1681.4 307.1 1681.1 312.6 1680.3 316.1 1679.4 321.1 1677.5 325.1 1675.2 329.6 1671.8 333.6 1667.9 337.6 1663.3 341.6 1657.7 345.6 1651.3 348.6 1646 352.6 1638.2 355.6 1631.7 358.1 1625.6 360.1 1620 364.1 1606.3 367.6 1592.4 369.6 1583.6 377.6 1544 386.6 1496.2 390.1 1474.7 393.6 1447.8 397.1 1416 400.6 1380 403.6 1344.4 405.1 1324.4 407.1 1293.1 409.6 1249.6 412.1 1201.6 414.6 1159.6 417.1 1126.8 420.6 1090 424.6 1052.2 425.6 1044.3 427.1 1035.6 429.1 1026.7 433.6 1009.6 436.6 999.7 439.6 991.3 443.1 982.9 447.6 974.4 450.6 969.8 455.1 964.9 456.6 963.7 458.1 962.8 462.6 961.4 465.6 961.2 470.6 962 473.1 962.8 476.1 964.1 484.6 968.8 499.6 976.1 507.6 980.8 515.1 986 522.6 991.8 526.6 995.5 537.6 1006.3 546.6 1013.9 552.1 1017.6 555.1 1019.2 559.6 1020.5 562.1 1020.5 564.6 1019.7 568.1 1017.9 571.1 1015.1 574.6 1011 576.6 1008.5 579.1 1004.7 592.6 981.7 598.6 972.3 601.1 968.8 602.6 967.2 605.1 965.6 606.1 965.2 607.1 965.1 609.1 965.6 611.1 966.6 612.6 968.2 614.1 970.2 615.6 972.8 617.6 977.1 619.1 981 620.1 984.3 623.6 998.4 626.1 1011 629.1 1028.2 632.6 1051.3 634.6 1066.5 643.1 1139.6 646.6 1168.1 652.1 1219.1 655.1 1244.9 664.6 1338.1 672.1 1417.9 675.6 1451.8 677.6 1468.4 680.1 1486.9 682.1 1499.9 684.6 1514 689.6 1537.9 695.1 1560.3 699.1 1575 702.6 1587 705.6 1596.6 709.1 1606.8 713.1 1617.6 717.6 1628.9 721.1 1637.1 726.1 1647.8 729.6 1654.7 732.6 1659.9 736.6 1666.1 740.6 1671.6 744.6 1676.4 749.1 1681.3 753.1 1685 758.1 1689.1 763.6 1693.1 769.6 1696.9 776.6 1700.8 783.1 1704 789.6 1706.8 797.1 1709.6 804.1 1711.8 813.1 1714.3 819.6 1715.7 827.6 1717.1 834.6 1718 843.1 1718.8 857.6 1719.7 881.6 1720.3 939.6 1720.3 968.1 1719.8 1049.6 1717.7 1100.6 1715.9 1137.1 1713.9 1181 1710.7" stroke="#000000" stroke-width="8.0"/>
<path d="M138.5 1545 139 1545.8 139.5 1547.2 141 1553.6 142 1561.9 144 1582.8 144.5 1586.9 145.5 1591.8 146 1595.5 146.5 1602 147 1632.7 147.5 1624 150 1531 151 1458.6 151.5 1458.5 152.5 1488.5 153.5 1499 154 1500.3 155 1499.9 156.5 1498.3 161 1490.2 162.5 1488 164 1486.7 165 1486.5 166 1487.1 167.5 1489 169 1491.8 173.5 1501.3 174.5 1502.8 177.5 1506.3 179.5 1508.3 181.5 1509.8 185 1511.2 188 1511.9 189.5 1512 191 1511.5 194 1509.6 200 1504.4 201.5 1502.5 203 1499.8 203.5 1498.3 204 1495.4 206.5 1472.7 207.5 1465.9 208.5 1462.9 210 1459.2 211.5 1456.6 212.5 1455.6 213 1455.4 213.5 1456.3 215 1471.9 215.5 1473.5 216 1473.1 217 1471.2 220 1461.6 221 1459.3 223.5 1455.6 225 1453.8 226.5 1452.5 227.5 1452.1 228.5 1452.1 229 1452.5 230.5 1454.7 235.5 1467 240 1476.4 241 1478 242 1479 242.5 1479.3 243.5 1479.2 244.5 1478.5 245.5 1477.4 247.5 1474.1 250 1469 251.5 1464.2 253 1458 254.5 1450.7 255.5 1444.4 259.5 1413.7 264.5 1378.9 269.5 1336.3 273.5 1307.7 275 1293.5 278 1259.1 281 1231.1 281.5 1224.8 283.5 1189.2 285 1176.1 287 1164.2 290 1149.4 291.5 1143 292.5 1139.9 294 1137.6 295.5 1136 296.5 1135.5 297 1135.6 297.5 1136.7 298 1138.8 299.5 1150.2 301.5 1171.6 302.5 1185.7 304 1215.5 306.5 1282.8 307.5 1297 309 1309.6 309.5 1315.4 310 1323.7 311 1361.1 311.5 1372.3 313 1397.2 317 1480 319.5 1515.1 325 1574.2 326 1583.7 327.5 1595.1 329.5 1607.7 336.5 1646.2 337.5 1650.4 338.5 1653.3 339 1654.1 339.5 1654.5 340 1654.5" stroke="#ff0000" stroke-width="7.2" stroke-dasharray="31.7 43.5"/>
<path d="M340 1654.5 344.5 1654.2 349.5 1653.2 351 1652.4 353 1650.1 355.5 1645.8 358 1640.2 361 1632.2 365 1620.1 366 1616.3 367.5 1609.3 373 1579.4 378 1557.7 380 1547.8 381.5 1538.3 385 1512.2 386.5 1503.6 389 1492.6 394.5 1471.8 401 1443.3 403.5 1433.5 407 1422.3 415 1399.8 423.5 1370.9 426.5 1361.7 429 1355.1 435 1340.9 438 1333.1 441 1324.2 448 1302.1 451.5 1292.2 455 1283.9 462.5 1268 466 1259.4 469 1250.4 478 1219.8 487 1195.2 489 1188.5 490.5 1182.4 495 1155.9 496.5 1148.2 501.5 1127.9 503 1123.6 504 1121.7 505 1120.8 506.5 1120.9 508 1121.5 509 1122.2 510 1123.2 511.5 1125.5 512 1143.3 513 1196.6 514 1223.8 514.5 1226 515.5 1225.2 517 1222.2 517.5 1219.7 519 1201.1 519.5 1196.8 520 1196.1 520.5 1197 521.5 1200.9 524 1215 529 1239 534.5 1272.3 539.5 1297.8 542.5 1311.6 547.5 1332.9 550 1342 552 1347.6 555 1355 558 1361.8 561 1367.7 564 1372.8 566.5 1376.3 568.5 1378.7 573.5 1383.6 578 1387.5 581 1389.7 584 1391.5 587 1392.8 589.5 1393.5 596.5 1394.1 603 1394.3 605.5 1393.9 608.5 1392.8 611 1391.3 613.5 1389.6 616.5 1387 619.5 1384.1 635.5 1366.3 640.5 1360.1 646 1352 651 1343 654 1336.5 657 1327.8 665 1299.8 671.5 1278.1 674.5 1266.9 677 1255.9 683.5 1223.6 689 1202.9 691 1194.5 693 1183.5 697.5 1151.3 699.5 1140.9 704.5 1117.8 706 1108.7 710.5 1076.8 712.5 1066.2 715 1054.5 720.5 1030.7 722.5 1023.3 724.5 1018.4 726 1015.5 727 1014.4 728 1014.3 730 1014.9 732.5 1016.4 733.5 1017.9 734.5 1019.9 736 1024.1 738 1032.7 740 1043.7 742.5 1059.5 744 1071.3 747.5 1104.6 759 1236.9 762 1278.7 764.5 1308.9 766 1324.3 768 1340 769 1349.7 769.5 1356.3 771 1386.7 772 1400.3 773 1409 775.5 1426.2 776.5 1434.3 780.5 1470.1 784 1504.4 786.5 1524.5 788.5 1538.6 792 1558.6 800 1596.9 803 1610.3 806 1621.2 810.5 1634.9 816 1648.8 820.5 1658.8 824 1666.1 827.5 1672.6 830.5 1677.6 833.5 1681.9 837 1686.1 840.5 1689.8 844 1693 848 1696 852.5 1699 857 1701.5 861.5 1703.7 869.5 1707 877 1709.9 884 1712.2 890.5 1714 899.5 1715.9 922.5 1719.2 936 1720.5 948 1721 1100.5 1721 1132.5 1720.6 1181 1719" stroke="#ff0000" stroke-width="7.2" stroke-dasharray="31.7 43.5" stroke-dashoffset="70.8"/>
<path d="M138.5 1606 139.5 1607.5 141 1611.4 142 1617.2 144.5 1638.3 145.5 1645.1 146 1647.3 146.5 1648.4 147 1647.7 148 1636.2 149.5 1611.3 150 1606 150.5 1603.9 152 1600.5 153.5 1598.2 155 1596.6 158.5 1593.6 160.5 1591 162 1588.2 164 1583.4 167 1574.6 175 1548.2 187 1512.9 194.5 1489 197 1480.1 199 1471.4 201 1460.3 202 1450.4 204 1423.5 204.5 1418.8 205 1416.2 206.5 1412.8 207.5 1411.4 208.5 1410.4 211 1408.9 215.5 1407.7 217.5 1406.8 219.5 1405.2 220 1403.9 221 1398.9 222 1391.5 229.5 1323.3 231 1306.2 237 1228.7 239 1207 245 1147.2 246.5 1137.2 249 1124.8 250.5 1118.7 251.5 1115.5 252.5 1113.2 253.5 1112.1 254.5 1112.1 256 1112.9 258 1115 260 1118 261 1120.3 262 1124 263.5 1131.6 266 1149.5 267 1162.2 271.5 1232 277 1335.9 280.5 1388.2 283.5 1429.7 286.5 1467.3 291 1514.7 294 1543.3 297.5 1570.4 300.5 1589.6 304.5 1609 308.5 1625 310.5 1631.5 312 1635.5 314.5 1640.9 317.5 1646.6 320 1650.6 322 1653.1 323.5 1654.3 324.5 1654.8 328 1655.7 332 1656.4" stroke="#0000ff" stroke-width="7.2" stroke-dasharray="4.6 40.2"/>
<path d="M332 1656.4 337 1656.8 339 1656.9 340 1656.7 341 1656.1 342 1655.1 343 1653.6 344.5 1650.8 347.5 1643 351 1631.7 357.5 1608.3 360.5 1595.1 365.5 1568.1 369 1545.4 372.5 1519 376.5 1483.6 379.5 1459 387 1400.7 393 1359.1 395 1348.1 396.5 1342 398.5 1335.2 400.5 1329.5 408 1311.4 411 1302.9 414 1292.4 421.5 1263.4 429.5 1235.7 431.5 1229.6 433 1225.7 434.5 1222.6 435.5 1221.1 438 1218.6 441 1215.9 443.5 1214.2 446 1212.9 448.5 1212.1 450.5 1212 452.5 1212.4 454.5 1213.3 456.5 1214.5 459 1216.6 464 1221.9 470.5 1230.2 472 1233 474 1237.9 480.5 1256.8 482.5 1262.2 484.5 1266.5 486.5 1269.6 488.5 1271.1 491.5 1272.6 494 1273.5 501 1275.4 505 1277.1 507 1278.4 508 1279.3 510.5 1282.6 512.5 1286.3 514.5 1290.7 520.5 1306 522.5 1313.2 527.5 1334.5 529 1339.9 530 1342.8 532.5 1347.7 537 1355.3 541 1361.3 544.5 1365.8 548.5 1370.3 552 1373.4 555.5 1375.8 559 1377.5 566.5 1379.5 576 1381.5 584.5 1382.8 592.5 1383.7 600.5 1384.1 605.5 1384 607.5 1383.6 609.5 1382.9 611.5 1382 614 1380.6 619 1376.9 624.5 1371.7 631 1364.5 639.5 1354.4 643.5 1348.2 647.5 1340.8 652 1331.3 658.5 1316.7 662 1307.7 669.5 1285.6 672.5 1277.4 681 1257.2 686 1246.7 688.5 1242.5 690.5 1239.7 694 1236.2 697 1233.5 699.5 1231.9 701.5 1231.2 703 1231.2 703.5 1231.4 704.5 1232.4 705.5 1234 706.5 1236.1 708.5 1241.6 710.5 1248.2 716 1268.3 719.5 1282.7 723.5 1302.5 727 1321.6 731 1346.8 739 1404 745 1444.2 757 1516.9 760.5 1535.9 765 1557.7 769 1575.1 774.5 1596.7 779.5 1613.9 784.5 1628.2 790.5 1643.3 793.5 1649.8 796 1654.6 800 1661.4 804.5 1668.4 808.5 1674.1 812.5 1679.3 816.5 1683.8 820 1687.3 823 1689.8 828 1693.4 837.5 1699.5 847 1704.4 856.5 1708.3 866.5 1711.4 879.5 1714.7 891.5 1716.9 900 1718 923 1720 936.5 1720.7 949 1721 1024 1720.9 1101 1720.5 1133.5 1719.8 1181 1718" stroke="#0000ff" stroke-width="7.2" stroke-dasharray="4.6 40.2" stroke-dashoffset="34.9"/>
<path d="M138.5 1040 139 1041.2 140 1050 141 1092 142.5 1117 145 1231.3 146 1265.4 147.5 1300.8 148.5 1320 149.5 1332.5 150 1335 150.5 1335.9 152 1337.6 153 1338 154 1095.7 155 1035.2 155.5 1023.5 156 1022 156.5 1021.1 157 1020.7 157.5 1022 159.5 1055.8 161.5 1083.8 164 1111.8 165 1119.7 165.5 1121.8 167.5 1127.6 169 1131.1 170.5 1133.9 172 1135.9 173.5 1137.1 175 1137.5 176 1137.2 177 1136.6 178 1135.6 180.5 1131.7 183 1126.6 187.5 1116.1 189 1111.7 193.5 1096.5 199.5 1081.6 201 1077.3 202.5 1072.3 203.5 1068.2 205 1060.7 207.5 1044.5 210 1014.9 210.5 1011 211 1009.6 211.5 1014.5 212.5 1030 213.5 1033.3 215.5 1038.2 216.5 1039.9 217.5 1041 218.5 1041.6 219.5 1041.7 220.5 1041.5 221.5 1041 223.5 1039.3 226 1036.3 234 1023.5 237.5 1015.9 244 999.3 247 992.3 253 980.8 255.5 976.7 257 974.9 258.5 973.8 261.5 972.8 264 972.5 264.5 972.6 265.5 973.6 267 976.7 269 982.8 272.5 995.6 274 1002.2 276 1013 279 1032.9 282 1061.3 284.5 1081.4 285.5 1095.1 287 1124.5 290.5 1165.7 294 1215.6 296.5 1254.8 301 1315.4 303 1347.1 305 1369.8 309 1420.6 312.5 1457.7 315 1480.1 317.5 1499.4 320.5 1519.7 325 1546.6 327 1556.6 331 1569.7 332.5 1573.8 334 1577.2 335.5 1579.5 336.5 1580.4 337 1580.6 338 1580.6 340 1580.2" stroke="#008080" stroke-width="7.2" stroke-dasharray="39.2 25.3 5.2 25.4"/>
<path d="M340 1580.2 341.5 1579.6 343.5 1578.5 345.5 1577.1 347.5 1575.3 349.5 1573.1 351 1569.5 353 1561.4 356.5 1543.9 361 1516.6 363 1507.5 367.5 1488.8 369.5 1478.8 377.5 1425.2 379 1416.7 382.5 1399.7 384 1391.3 385.5 1380.3 388 1356.5 396 1309.5 397 1301.3 398 1290.7 399.5 1259.9 401.5 1236.8 403.5 1221 407 1198.8 410 1177.7 411.5 1165.8 414 1143 416.5 1128 421.5 1104 425.5 1082.4 427 1076.1 429 1070.2 431.5 1064.1 433.5 1060.6 435 1059 439.5 1056.1 442.5 1055 444 1054.8 445.5 1054.9 448 1055.9 451 1058.2 454.5 1062 456.5 1064.5 457.5 1066.2 459 1069.6 461 1075.4 467 1097 470 1109.9 473 1125 477 1148.9 481.5 1177.9 483.5 1189.2 494.5 1241.9 499.5 1268.6 501 1274.5 502 1277.1 502.5 1277.9 503 1278.3 503.5 1278.3 504.5 1277.7 505.5 1276.3 506.5 1274.4 508 1270.5 509 1267.2 510 1260.6 512 1237 512.5 1226.6 514 1178.3 514.5 1166.6 515 1162 515.5 1169.7 516.5 1208.9 517.5 1235.2 519 1259.5 523.5 1324.4 524.5 1331.6 526 1339.5 533.5 1371 537.5 1386.3 542 1400.7 552.5 1429.4 555 1435.6 557 1439.7 562.5 1449 568.5 1457.4 589 1482.3 592 1485.7 594.5 1488.1 597.5 1490.5 602 1492.9 608.5 1495.9 614 1498 618 1499 621.5 1499.5 625.5 1499.6 629.5 1499.2 635.5 1497.9 642 1495.7 649 1492.6 657 1488.5 660 1486.7 663 1484.3 666 1481.4 669.5 1477.4 677 1467.6 682 1459.6 700.5 1425.3 704.5 1417.3 708 1409.4 710.5 1403.1 713 1395.7 725.5 1354.5 734.5 1325.8 737.5 1317.5 744.5 1300.1 747 1295.5 749 1293.1 752 1290.8 754.5 1289.4 757 1288.5 758.5 1288.3 759 1288.4 759.5 1288.7 760.5 1289.9 762 1292.8 763.5 1296.6 768.5 1311.1 770.5 1317.3 772 1322.8 774.5 1334.3 776.5 1346.2 778.5 1369.2 779.5 1376.9 784.5 1405.9 797 1488.8 811.5 1571.8 814 1584.4 817.5 1599.1 822 1615.7 826.5 1629.7 831.5 1642.5 838.5 1657.9 842.5 1665.8 846 1671.5 852 1678.9 858.5 1686 862.5 1689.9 866.5 1693.4 870.5 1696.5 874.5 1699.4 878.5 1701.8 882.5 1704 888 1706.6 893 1708.7 901.5 1711.7 910 1714 928 1717.6 935.5 1718.7 942 1719.5 953 1720.1 981.5 1720.8 1001.5 1721 1025.5 1720.8 1056.5 1720.2 1114.5 1718.6 1181 1716" stroke="#008080" stroke-width="7.2" stroke-dasharray="39.2 25.3 5.2 25.4" stroke-dashoffset="56.3"/>
<path d="M138.5 1100 139.5 1107.5 140.5 1117 142 1136 142.5 1148.8 144 1204.2 145.5 1237.4 146 1245.3 146.5 1249.6 147 1233.4 147.5 1190 149 1160 150 1123.7 151 1061.8 151.5 1043.5 152 1056 154 1140 155.5 1190 160 1290.3 161.5 1311.2 162 1315.6 164 1326 165.5 1331.1 166.5 1332.8 167 1333 168 1332.6 169.5 1330.9 170.5 1327.7 171.5 1322.5 174.5 1302.2 183 1231.1 186 1202.2 191 1146.7 194 1117.2 196 1101.5 199 1085.2 200.5 1074.6 202 1057.7 205 1017.9 206.5 1004.6 207.5 997.5 208.5 992.1 211 982.7 213 976.7 215 972.2 216 970.4 217.5 968.4 219.5 966.1 221 964.7 222 964.2 223 964 223.5 964.2 224.5 965.5 225.5 967.9 227 973 239 1021.5 246 1048.4 250 1061.5 251.5 1068.5 252.5 1074.8 253 1079.4 256 1134.9 256.5 1136.3 257 1133.8 259 1115 260.5 1103.3 261.5 1097.2 262 1095.8 262.5 1096.2 263 1099.1 264.5 1113.6 266.5 1139.2 268 1155.6 269 1163 272 1179.3 273 1186.7 276 1222 280 1261 281.5 1273 284.5 1288.3 285.5 1295.4 286 1300.2 287 1323.2 288 1333.8 289 1340.1 291 1349.8 292 1356.7 294 1381.4 295.5 1393.4 303 1435.3 307.5 1458.8 310.5 1472.3 314.5 1487.4 317 1494.9 321.5 1505.8 323.5 1509.5 324.5 1510.7 325.5 1511.6 328 1513 330.5 1514.2 333 1514.9 335 1515.1" stroke="#ff00ff" stroke-width="7.2" stroke-dasharray="28.2 25.3 5.2 25.4 5.2 25.4"/>
<path d="M335 1515.1 336 1514.6 337.5 1512.8 342 1504.5 345.5 1496 349.5 1484.3 352.5 1473.8 356.5 1458.3 362.5 1432.1 369.5 1408.8 371 1402.5 373 1392.1 375 1379.6 377 1365.4 378.5 1352.3 379.5 1341.4 381 1320.3 382 1302.8 384 1257.3 388.5 1206.1 391 1184.8 391.5 1177.9 392.5 1146.8 393.5 1130.1 395.5 1107.4 397.5 1090.2 401.5 1062.7 404.5 1038.5 405.5 1033.3 407.5 1025.3 410.5 1016 412 1012.4 414 1008.4 417.5 1002.6 419.5 999.9 421.5 998.1 422.5 997.7 423.5 997.6 424.5 998 426 999.2 428.5 1002.6 436 1016.3 439 1022.5 442.5 1030.9 445.5 1039.6 447.5 1046.2 449.5 1054.7 453.5 1075.2 456 1089.6 458 1103 461 1128 465 1150.3 466 1158.3 467.5 1181.1 468.5 1191.1 472 1215.2 474.5 1235.6 475.5 1242.4 477 1250.4 481.5 1270.9 485 1290.4 487 1300.3 493.5 1327.2 497.5 1345.2 499 1350.7 502.5 1360 503.5 1361.9 504.5 1363 505 1363.2 505.5 1362.6 506.5 1356.8 508 1342.7 511.5 1292.5 512.5 1270.7 513.5 1235.9 514 1224.3 514.5 1222.6 515 1228.9 515.5 1239.1 517 1273.8 517.5 1290 518.5 1343 519.5 1368.2 521 1384 522 1390.8 523.5 1398.3 525.5 1406.4 528 1414.3 536 1434.5 544 1451.9 557.5 1478.8 564.5 1493.9 567.5 1499.6 570 1503.2 575 1509.3 580.5 1515 586 1519.8 592 1524 600.5 1529 608.5 1532.7 615 1535 625 1537.3 634 1539 641.5 1539.9 647 1540.1 651 1539.7 656 1538.5 661.5 1536.4 669.5 1532.8 673.5 1530.5 678.5 1526.8 683.5 1522.2 688 1517.4 693 1511.5 695 1508.7 697 1505.5 700.5 1499 709 1481.9 716.5 1465.5 721 1454.5 729 1432.1 738 1408.5 740.5 1400.7 745.5 1381.9 747.5 1375.2 752 1361.8 757 1348.2 760.5 1337.6 762 1333.9 763 1332.2 764 1331.3 764.5 1331.2 765.5 1331.4 767.5 1332.8 769.5 1335.2 773 1340.7 775.5 1345.3 777.5 1350.3 779.5 1356.3 782 1365.2 784 1373.1 785.5 1380.9 792.5 1421 798 1455.6 801.5 1475.8 803 1485.8 806 1510.8 809.5 1532.7 812 1545.4 817 1566.8 822 1592.5 826 1608.7 831 1625.5 836 1640.6 839.5 1649.7 845.5 1663.2 849 1669.8 852 1674.3 858 1681.6 864 1687.7 867.5 1690.7 871.5 1693.9 880.5 1700.1 885 1702.7 889 1704.9 893 1706.7 896.5 1708 908 1711.5 920.5 1714.3 943.5 1718.1 957 1719.8 963.5 1720.3 970 1720.5 1101.5 1720 1134.5 1719.4 1181 1718" stroke="#ff00ff" stroke-width="7.2" stroke-dasharray="28.2 25.3 5.2 25.4 5.2 25.4" stroke-dashoffset="34.3"/>
</g>
<clipPath id="cpd"><rect x="1360.7" y="956.7" width="1040.8" height="772.9"/></clipPath>
<g clip-path="url(#cpd)" fill="none" stroke-linecap="round" stroke-linejoin="round">
<path d="M1359.7 1664 1361.2 1662.4 1362.7 1661.5 1364.2 1661.1 1366.2 1661 1366.7 1661.3 1367.7 1662.4 1370.7 1667.2 1371.7 1667.9 1372.2 1668 1374.7 1667.8 1377.7 1667.4 1387.7 1665 1392.2 1664.2 1396.2 1664.1 1399.2 1665 1402.2 1666.7 1405.2 1669 1416.2 1679.2 1419.2 1682.9 1426.2 1693 1428.2 1695.4 1429.7 1696.9 1431.2 1697.9 1432.7 1698.4 1439.2 1698.4 1450.2 1697.6 1455.2 1697 1457.7 1696.5 1460.7 1695.4 1463.7 1694 1466.7 1692.2 1470.2 1689.9 1471.7 1688.6 1473.7 1686.3 1477.2 1681.4 1480.7 1675.6 1490.2 1658.8 1493.2 1652.7 1495.7 1646.8 1498.2 1639.9 1499.7 1634.6 1502.2 1623.8 1507.7 1597.3 1514.2 1563.9 1516.2 1556.1 1520.2 1544.2 1525.2 1532.1 1533.2 1515.9 1537.7 1508.2 1546.7 1494.8 1550.2 1489.3 1553.7 1483 1556.7 1476.9 1560.7 1466.6 1568.2 1444.4 1571.2 1436.2 1575.2 1426.8 1583.7 1408.1 1588.2 1397 1593.2 1382.3 1598.2 1365.3 1602.2 1350.2 1605.2 1337.6 1608.7 1321.2 1612.2 1302.9 1625.2 1222 1626.7 1210.5 1629.7 1183.8 1631.2 1173.3 1633.7 1161.1 1639.2 1140.5 1641.7 1129.2 1643.2 1119.4 1646.2 1095.3 1647.7 1087.3 1648.2 1086 1651.2 1082.2 1653.7 1079.9 1656.7 1078 1659.7 1076.7 1662.7 1075.8 1665.7 1075.3 1673.2 1074.5 1676.7 1073.8 1678.2 1072.8 1680.2 1070.3 1681.7 1067.7 1683.2 1064.6 1686.7 1055.8 1695.7 1030.8 1701.2 1013.5 1703.2 1007.9 1708.2 996.2 1709.7 993.8 1710.7 993 1711.2 992.9 1711.7 994.6 1712.2 999.3 1717.2 1071.1 1719.2 1090.2 1720.2 1097.6 1720.7 1099.9 1721.2 1101 1721.7 1100.8 1722.2 1099.9 1724.2 1093.7 1726.2 1088.7 1727.2 1087.1 1728.2 1087.1 1729.2 1087.5 1731.2 1089.4 1732.7 1091.6 1734.2 1094.4 1735.7 1097.9 1737.7 1103.3 1741.7 1116.6 1743.7 1124.3 1744.7 1129.2 1746.2 1140.8 1749.2 1168.4 1755.2 1216.7 1763.7 1297.2 1768.7 1340.3 1774.7 1385.1 1779.7 1419 1781.2 1427.9 1782.2 1432.6 1783.7 1437.2 1787.2 1444.3 1790.7 1449.8 1794.7 1454.7 1798.7 1458.6 1808.2 1467 1811.7 1469.2 1819.7 1473.1 1823.2 1475.5 1826.7 1479.1 1828.7 1481.8 1829.7 1483.5 1830.7 1487.5 1832.2 1497.6 1835.2 1523.5 1846.2 1610.8 1849.7 1632.9 1852.7 1649.4 1854.7 1658.2 1856.7 1665.2 1860.2 1676.2 1863.2 1684.3 1865.7 1689.9 1868.2 1694.5 1870.2 1697.3 1873.7 1701.1 1876.7 1703.9 1879.7 1706.3 1882.7 1708.4 1886.2 1710.4 1889.7 1711.9 1896.2 1714.2 1901.2 1715.6 1905.7 1716.7 1909.7 1717.3 1913.7 1717.6 1937.7 1718 1961.7 1718.1 1977.7 1717.6 2092.7 1712.5 2162.2 1710.1 2189.2 1708.9 2227.7 1706.8 2278.2 1704.3 2359.2 1698.6 2402.5 1696" stroke="#000000" stroke-width="7.2" stroke-dasharray="4.6 40.2"/>
<path d="M1359.7 1626 1362.7 1639.7 1364.7 1647.7 1366.7 1654 1368.7 1658.3 1370.7 1661.8 1372.7 1664.8 1374.7 1667.3 1376.7 1669.4 1378.2 1670.7 1380.2 1672.1 1383.2 1673.8 1386.2 1675.1 1392.7 1677.4 1426.7 1687.8 1430.2 1688.7 1433.2 1689 1445.2 1688.7 1451.7 1688.4 1455.2 1687.6 1457.7 1686.6 1459.7 1685.3 1460.2 1682.6 1460.7 1677.6 1462.2 1658.2 1462.7 1653.8 1463.2 1652.1 1463.7 1656.5 1464.7 1672.2 1465.7 1682.6 1466.7 1691.5 1467.2 1694.5 1467.7 1696.1 1468.2 1696.2 1469.7 1696.1 1473.7 1695.5 1478.2 1694.6 1482.7 1693.1 1487.2 1691.3 1492.2 1688.9 1495.7 1686.9 1499.7 1684.3" stroke="#ff0000" stroke-width="7.2" stroke-dasharray="31.7 43.5"/>
<path d="M1500.2 1683.9 1505.7 1679.6 1510.2 1675.3 1514.7 1670 1519.7 1663.1 1530.7 1646.6 1537.2 1636.1 1542.7 1626 1547.7 1615.2 1550.7 1607.7 1553.2 1600.6 1555.7 1592.4 1557.7 1585 1559.7 1576.1 1564.2 1548.5 1565.7 1540.9 1568.2 1531.4 1573.2 1515.4 1575.2 1507.6 1577.2 1497.3 1582.2 1468 1587.7 1443 1589.7 1432.3 1594.7 1394.9 1596.2 1386.5 1599.7 1370.2 1601.2 1360.9 1602.2 1351.2 1604.2 1325.7 1605.2 1317.3 1606.7 1309.9 1610.2 1297.6 1611.7 1289 1612.2 1284.9 1612.7 1277 1613.7 1254.4 1614.2 1245.3 1614.7 1240.3 1616.2 1230.5 1619.2 1217.3 1620.7 1207.1 1623.7 1170.9 1624.7 1162.3 1627.7 1142.5 1628.7 1134.6 1632.2 1093.7 1634.2 1080.5 1638.7 1057.3 1643.2 1029 1645.2 1019.8 1647.7 1012 1649.2 1008.1 1650.7 1005.1 1651.7 1004 1652.2 1003.7 1653.7 1003.6 1669.7 1004.3 1671.2 1003.9 1673.2 1002.9 1675.2 1001.4 1677.2 999.5 1684.7 991.2 1687.2 987.9 1692.2 980.4 1694.7 977 1700.7 970.3 1704.7 966.4 1708.2 963.8 1712.2 962.1 1717.7 960.4 1721.7 960 1722.2 960.5 1722.7 961.6 1724.2 965.9 1724.7 967 1725.2 967.5 1727.7 968.1 1733.2 968.7 1735.7 969.2 1739.2 970.8 1742.2 973 1743.7 974.5 1744.7 975.9 1746.2 979 1747.7 982.9 1750.2 990.7 1754.7 1006.8 1757.7 1019.5 1762.7 1044.6 1769.7 1077.8 1771.2 1086.4 1775.7 1116.6 1776.7 1121.5 1779.2 1131.6 1782.2 1142 1783.7 1146.2 1785.2 1149.6 1786.7 1152.1 1788.7 1154.5 1791.2 1157 1793.2 1158.5 1795.2 1159.4 1796.7 1159.6 1797.7 1159.2 1799.2 1157.6 1800.7 1155 1802.2 1151.7 1807.7 1136.8 1810.7 1125.8 1815.7 1102.7 1821.2 1071.6 1823.7 1060.3 1827.2 1047.6 1832.2 1032.2 1832.7 1031.5 1833.2 1032 1833.7 1033.7 1836.2 1048.4 1839.2 1073.1 1840.7 1084 1841.7 1089.2 1844.7 1101.5 1845.7 1107.6 1846.7 1117.1 1848.2 1153.7 1849.2 1166.8 1851.2 1188.1 1853.7 1228.7 1854.7 1238.8 1856.2 1251 1857.2 1262.1 1859.2 1305 1862.2 1341.2 1864.2 1374.9 1866.7 1412.6 1870.2 1454.4 1875.2 1508.2 1877.2 1528 1878.7 1540 1882.2 1563.3 1886.2 1586.5 1893.2 1622.8 1894.7 1629.8 1896.2 1635.6 1900.2 1647.3 1902.7 1653.4 1905.2 1658.8 1917.2 1682.8 1919.7 1686.9 1922.2 1689.9 1925.2 1692.9 1929.2 1696.2 1936.2 1701.3 1942.2 1705.1 1946.2 1707.3 1949.7 1708.9 1955.7 1711.1 1961.2 1712.9 1966.7 1714.4 1971.7 1715.5 1981.2 1717 1990.2 1718.2 2002.7 1719.3 2022.2 1720.1 2044.2 1720.5 2066.2 1720.4 2093.7 1719.8 2133.2 1718.5 2156.7 1717.3 2210.7 1714.1 2402.5 1704" stroke="#ff0000" stroke-width="7.2" stroke-dasharray="31.7 43.5" stroke-dashoffset="3.9"/>
<path d="M1360.8 1680.3 1362.3 1680.2 1364.3 1679.3 1366.3 1677.9 1366.8 1676.9 1368.8 1666 1369.3 1663.8 1369.8 1662.7 1371.3 1662.8 1374.8 1663.6 1378.3 1663.4 1382.3 1662.3 1392.8 1658.4 1395.8 1657.7 1398.8 1657.4 1402.8 1657.1 1404.8 1657.1 1410.3 1658.9 1412.3 1659.1 1420.3 1658.6 1425.8 1657.3 1427.8 1657.1 1428.3 1657.1 1428.8 1657.5 1429.3 1658.4 1431.8 1664.9 1434.8 1670.1 1436.3 1671.8 1438.8 1673.5 1441.3 1674.6 1445.3 1675 1461.8 1675.8 1472.8 1675.3 1473.3 1675.6 1474.3 1676.9 1478.3 1685.3 1478.8 1685.9 1479.3 1685.7 1479.8 1684.9 1481.3 1680.9 1483.3 1676.6 1484.3 1675 1484.8 1674.8 1486.3 1674.9 1488.3 1675.3 1501.8 1679.6 1509.3 1681 1513.3 1681.4 1523.8 1681.4 1528.3 1681.1 1533.8 1680.3 1537.3 1679.4 1542.3 1677.5 1546.3 1675.2 1550.8 1671.8 1554.8 1667.9 1558.8 1663.3 1562.8 1657.7 1566.8 1651.3 1569.8 1646 1573.8 1638.2 1576.8 1631.7 1579.3 1625.6 1581.3 1620 1585.3 1606.3 1588.8 1592.4 1590.8 1583.6 1598.8 1544 1607.8 1496.2 1611.3 1474.7 1614.8 1447.8 1618.3 1416 1621.8 1380 1624.8 1344.4 1626.3 1324.4 1628.3 1293.1 1630.8 1249.6 1633.3 1201.6 1635.8 1159.6 1638.3 1126.8 1641.8 1090 1645.8 1052.2 1646.8 1044.3 1648.3 1035.6 1650.3 1026.7 1654.8 1009.6 1657.8 999.7 1660.8 991.3 1664.3 982.9 1668.8 974.4 1671.8 969.8 1676.3 964.9 1677.8 963.7 1679.3 962.8 1683.8 961.4 1686.8 961.2 1691.8 962 1694.3 962.8 1697.3 964.1 1705.8 968.8 1720.8 976.1 1728.8 980.8 1736.3 986 1743.8 991.8 1747.8 995.5 1758.8 1006.3 1767.8 1013.9 1773.3 1017.6 1776.3 1019.2 1780.8 1020.5 1783.3 1020.5 1785.8 1019.7 1789.3 1017.9 1792.3 1015.1 1795.8 1011 1797.8 1008.5 1800.3 1004.7 1813.8 981.7 1819.8 972.3 1822.3 968.8 1823.8 967.2 1826.3 965.6 1827.3 965.2 1828.3 965.1 1830.3 965.6 1832.3 966.6 1833.8 968.2 1835.3 970.2 1836.8 972.8 1838.8 977.1 1840.3 981 1841.3 984.3 1844.8 998.4 1847.3 1011 1850.3 1028.2 1853.8 1051.3 1855.8 1066.5 1864.3 1139.6 1867.8 1168.1 1873.3 1219.1 1876.3 1244.9 1885.8 1338.1 1893.3 1417.9 1896.8 1451.8 1898.8 1468.4 1901.3 1486.9 1903.3 1499.9 1905.8 1514 1910.8 1537.9 1916.3 1560.3 1920.3 1575 1923.8 1587 1926.8 1596.6 1930.3 1606.8 1934.3 1617.6 1938.8 1628.9 1942.3 1637.1 1947.3 1647.8 1950.8 1654.7 1953.8 1659.9 1957.8 1666.1 1961.8 1671.6 1965.8 1676.4 1970.3 1681.3 1974.3 1685 1979.3 1689.1 1984.8 1693.1 1990.8 1696.9 1997.8 1700.8 2004.3 1704 2010.8 1706.8 2018.3 1709.6 2025.3 1711.8 2034.3 1714.3 2040.8 1715.7 2048.8 1717.1 2055.8 1718 2064.3 1718.8 2078.8 1719.7 2102.8 1720.3 2160.8 1720.3 2189.3 1719.8 2270.8 1717.7 2321.8 1715.9 2358.3 1713.9 2402.2 1710.7" stroke="#0000ff" stroke-width="7.2"/>
<path d="M1359.5 1674.7 1362 1679.1 1367 1686.6 1369 1689 1370.5 1690 1371.5 1690.2 1372 1689.8 1372.5 1688.8 1373.5 1685.5 1374.5 1680.6 1376 1671.4 1376.5 1666.9 1378 1644.3 1379.5 1578.5 1380.5 1558.6 1381 1553.6 1381.5 1558.2 1382.5 1604.4 1383 1619.6 1385 1649.9 1386 1683.2 1386.5 1686.7 1387.5 1689.9 1389 1693.1 1390.5 1694.7 1392 1694.9 1393 1694.5 1394.5 1693.1 1396 1690.9 1398 1687.1 1403 1675.7 1405 1671.6 1413.5 1656.8 1417 1651.6 1419 1649.5 1421.5 1647.8 1424.5 1646.6 1430.5 1644.9 1433 1644 1435.5 1642.7 1437.5 1641.2 1440 1638.1 1442 1634.7 1444 1627.3 1444.5 1625.7 1445 1624.8 1445.5 1625.1 1446 1628.3 1447.5 1645.2 1448 1649.2 1450 1655.8 1451 1658 1452 1659.1 1453.5 1659.2 1456 1658.5 1463 1655 1471 1651.4 1473.5 1650.4 1475.5 1649.9 1477 1649.7 1479.5 1649.8 1489.5 1650.8 1493.5 1650.8 1495.5 1649.9 1499.5 1646.5 1501 1645.5 1502.5 1644.9 1505.5 1644.5 1513.5 1643.8 1517 1643.8 1520 1643.9 1525.5 1644.8 1539.5 1648" stroke="#008080" stroke-width="7.2" stroke-dasharray="39.2 25.3 5.2 25.4"/>
<path d="M1540 1648.1 1544.5 1648.5 1549 1648.3 1554 1647.6 1559.5 1646.2 1565 1644.3 1570 1642.1 1572.5 1640.3 1575.5 1637.1 1579.5 1631.7 1585 1623.4 1588.5 1616.8 1592 1609.1 1595 1601.4 1600.5 1584.2 1606.5 1567 1611.5 1553.9 1615 1544.2 1617 1539.7 1618.5 1538 1619.5 1537.7 1622 1538.1 1628.5 1540 1630.5 1540.1 1632 1539.7 1634 1538.3 1635.5 1536.6 1637.5 1533.3 1638.5 1530.6 1639 1525.9 1640.5 1505.6 1641.5 1497.3 1643.5 1483.9 1645 1470 1649 1419.6 1655 1322.9 1656 1295.5 1657 1276.7 1660 1243.5 1661.5 1222.7 1663.5 1189.7 1666.5 1150.5 1668 1125.9 1669.5 1107.2 1671.5 1085.9 1673.5 1066.7 1676.5 1041.9 1677.5 1035.1 1679 1027.8 1682 1016 1684 1010.6 1685 1009 1685.5 1008.6 1689.5 1007.7" stroke="#008080" stroke-width="7.2" stroke-dasharray="39.2 25.3 5.2 25.4" stroke-dashoffset="60.1"/>
<path d="M1690 1007.6 1693.5 1007.2 1696 1007.3 1697 1007.8 1698.5 1009.3 1700 1011.3 1704.5 1018.5 1710.5 1026.5 1715 1033 1717.5 1037.3 1723 1047.5 1726 1052.1 1727.5 1053.8 1729 1054.9 1731 1055.8 1736.5 1057.5 1738 1058.4 1739 1059.5 1740.5 1062.8 1744.5 1074.9 1745.5 1077.2 1746.5 1078.7 1750 1082.2 1753 1084.5 1755.5 1085.6 1757 1085.8 1758 1085.7 1759.5 1085 1761.5 1083.4 1764 1080.5 1767 1076.4 1769.5 1071.1 1774 1059 1777.5 1048.1 1781.5 1033.8 1788 1004.9 1790 997 1795 980.5 1796.5 976.4 1798 973 1801.5 967.3 1804 963.8 1805.5 962.3 1806.5 961.6 1807.5 961.1 1808.5 961 1810 961.6 1812 963.6 1814 966.7 1817.5 973 1820 979.2 1822.5 987.2 1825 996.5 1828.5 1011.2 1830.5 1021.2 1838 1064.7 1840 1073.6 1844.5 1090.2 1846.5 1098.8 1848 1106.9 1851 1130.5 1852.5 1139.8 1862.5 1195.5 1868.5 1224.2 1872 1248.4 1873.5 1257.1 1875.5 1266.6 1879 1281.7 1881 1291.5 1885 1316.6 1886.5 1324.7 1904.5 1412.1 1909.5 1437.4 1912 1448.2 1919 1476.3 1924 1499.8 1926 1508.1 1929.5 1521.1 1934 1536.4 1938.5 1550.9 1943 1564.5 1950.5 1585.1 1958 1604 1962 1613.6 1965.5 1621 1971 1631.8 1975 1639 1979 1645.6 1982.5 1650.8 1986 1655.3 1990 1659.9 1994.5 1664.6 2010 1679.3 2018 1686.1 2021.5 1688.7 2024.5 1690.5 2029.5 1693.2 2035 1695.9 2042.5 1699.2 2051 1702.4 2064.5 1707 2074 1709.8 2080.5 1711.5 2086.5 1712.8 2103.5 1715.2 2123.5 1717.3 2143.5 1718.4 2187.5 1720 2225.5 1720.6 2272 1720.3 2333 1719.2 2363.5 1718 2402.5 1716" stroke="#008080" stroke-width="7.2" stroke-dasharray="39.2 25.3 5.2 25.4" stroke-dashoffset="22.6"/>
<path d="M1359.5 1666.4 1363.5 1670.4 1367.5 1675.6 1375 1683.6 1378.5 1686.9 1381.5 1689 1384 1690 1385.5 1690.2 1386 1690 1386.5 1689 1387.5 1684.7 1388.5 1677.7 1390.5 1658.9 1391.5 1641.6 1393 1607.7 1394.5 1583.5 1395 1578.9 1395.5 1581.4 1397 1637.3 1398.5 1657 1399.5 1692.7 1402 1693.8 1404.5 1694.7 1410 1695.8 1414 1696.1 1419.5 1696.1 1421 1695.9 1422.5 1695.3 1424 1694.4 1426 1692.9 1430 1688.6 1435 1682 1440 1674.9 1442 1671.7 1445 1666.1 1448 1659.4 1451 1651.5 1454.5 1641.1 1456.5 1633.1 1457.5 1627.4 1458.5 1619.9 1460 1591 1463 1507.7 1464 1489.2 1464.5 1490.6 1465.5 1559.6 1466 1579.4 1467 1600 1468.5 1641.6 1469 1652.4 1469.5 1658 1470 1657.9 1470.5 1657.3 1472 1653.7 1473.5 1648.1 1477 1633 1478 1629.8 1479 1627.5 1481.5 1622.9 1484 1619.1 1492 1609.1 1494.5 1605.6 1497 1601.7 1499.5 1597.2" stroke="#ff00ff" stroke-width="7.2" stroke-dasharray="28.2 25.3 5.2 25.4 5.2 25.4"/>
<path d="M1500 1596.3 1505 1587.2 1508.5 1581.9 1515 1574.5 1517 1572.9 1518.5 1572.3 1520 1572.3 1522 1572.7 1524 1573.4 1526.5 1574.5 1537 1580.2 1547.5 1587.6 1551 1589.8 1554.5 1591.5 1558 1592.4 1561 1592.5 1564 1592.1 1567 1591.4 1570 1590.3 1573 1588.9 1576.5 1586.8 1580 1584.5 1583.5 1581.8 1584.5 1580.7 1585.5 1579.2 1588 1574 1594.5 1556.6 1601 1541.2 1604 1533.4 1606 1527.3 1607 1523.4 1611 1504.3 1612 1500.9 1614.5 1494.4 1617.5 1487.4 1620 1482.7 1621.5 1480.5 1622.5 1479.4 1623.5 1478.7 1624.5 1478.3 1626.5 1478.4 1628.5 1479.3 1630.5 1480.8 1633 1483.5 1635.5 1486.9 1638 1490.9 1643 1499.6 1644.5 1502.7 1646 1506.5 1648 1512.4 1652.5 1528.1 1653.5 1532.7 1656.5 1550.1 1657.5 1554.1 1658 1555.2 1658.5 1555.6 1662.5 1555.2 1665.5 1554.4 1668 1553.2 1668.5 1552.1 1669.5 1545.6 1671.5 1526.6 1674 1506.6 1675 1496.7 1678.5 1443.2 1680 1410.6 1681 1401.7 1682.5 1393 1683.5 1381.7 1684.5 1347.4 1686 1322.2 1687 1310.2 1688.5 1295.8 1692 1269.5 1694 1242.2 1695.5 1230.3 1697.5 1219 1699.5 1211.4 1701 1207.3 1703 1202.7 1706.5 1196.3 1709.5 1192.2 1714 1187 1716.5 1184.4 1718.5 1182.8 1720.5 1181.9 1722 1181.9 1723 1182.6 1724.5 1184.7" stroke="#ff00ff" stroke-width="7.2" stroke-dasharray="28.2 25.3 5.2 25.4 5.2 25.4" stroke-dashoffset="1.3"/>
<path d="M1725 1185.7 1729.5 1196 1731.5 1199.4 1732.5 1200.3 1733.5 1200.9 1739.5 1203.1 1741 1203.9 1742 1204.7 1744.5 1207.8 1751 1217.8 1753.5 1220.5 1755 1221.4 1756 1221.6 1757 1221.4 1758 1220.7 1760 1218.3 1762.5 1213.6 1766 1205 1769.5 1195.4 1770.5 1192.1 1773.5 1179.8 1777 1162.4 1781 1136.9 1788 1083.9 1792.5 1056 1795.5 1033.1 1796.5 1027.3 1800 1013.7 1802 1007.7 1803.5 1004.2 1805 1001.4 1807.5 998.2 1809 996.8 1810 996.5 1810.5 996.7 1811.5 998.7 1812.5 1002.4 1816 1020.7 1820.5 1040.5 1822.5 1051.3 1823.5 1058.8 1826 1081.6 1833.5 1136.7 1838.5 1169.1 1846.5 1226.5 1849.5 1245.6 1852 1259.8 1856 1280.1 1859.5 1296.4 1873 1353.1 1877.5 1370.3 1884.5 1393.7 1889.5 1409.5 1894 1422.3 1912 1467.1 1918 1480.8 1925 1495.9 1948.5 1545 1958 1562.8 1972 1588 1978 1598.2 1984.5 1608.2 1992 1619 2001 1631.5 2008 1640.6 2014 1647.6 2019.5 1653.7 2024.5 1658.8 2029.5 1663.5 2037 1670 2044 1675.6 2050 1679.9 2056 1683.7 2063 1687.5 2071 1691.3 2084.5 1697 2094.5 1700.9 2101 1703.1 2107 1704.9 2116 1707.1 2125.5 1709.1 2136 1711.1 2147 1712.9 2167 1715.7 2181 1717.5 2197 1718.8 2226 1720.2 2252.5 1720.8 2284.5 1720.9 2357 1720.3 2402.5 1719.5" stroke="#ff00ff" stroke-width="7.2" stroke-dasharray="28.2 25.3 5.2 25.4 5.2 25.4" stroke-dashoffset="31.6"/>
</g>
<g class="tx">
<rect x="139.5" y="34.8" width="1040.8" height="772.9" fill="none" stroke="#000" stroke-width="3.0"/>
<path d="M139.5 807.7 v15 M243.6 807.7 v7.8 M347.7 807.7 v15 M451.7 807.7 v7.8 M555.8 807.7 v15 M659.9 807.7 v7.8 M764 807.7 v15 M868.1 807.7 v7.8 M972.1 807.7 v15 M1076.2 807.7 v7.8 M1180.3 807.7 v15 M139.5 807.7 h-15 M139.5 730.4 h-7.8 M139.5 653.1 h-15 M139.5 575.8 h-7.8 M139.5 498.5 h-15 M139.5 421.2 h-7.8 M139.5 344 h-15 M139.5 266.7 h-7.8 M139.5 189.4 h-15 M139.5 112.1 h-7.8 M139.5 34.8 h-15" stroke="#000" stroke-width="3.0" fill="none"/>
<text x="139.1" y="867.9" text-anchor="middle">400</text>
<text x="347.3" y="867.9" text-anchor="middle">600</text>
<text x="555.4" y="867.9" text-anchor="middle">800</text>
<text x="763.6" y="867.9" text-anchor="middle">1000</text>
<text x="971.7" y="867.9" text-anchor="middle">1200</text>
<text x="1179.9" y="867.9" text-anchor="middle">1400</text>
<text x="114.1" y="820.9" text-anchor="end">0.0</text>
<text x="114.1" y="666.3" text-anchor="end">0.2</text>
<text x="114.1" y="511.7" text-anchor="end">0.4</text>
<text x="114.1" y="357.2" text-anchor="end">0.6</text>
<text x="114.1" y="202.6" text-anchor="end">0.8</text>
<text x="114.1" y="48" text-anchor="end">1.0</text>
<text class="bd" transform="translate(659.9 915.8) scale(.972 1)" text-anchor="middle">Wavelength(nm)</text>
<text class="bd" transform="translate(50.8 421.2) rotate(-90) scale(.985 1)" text-anchor="middle">Absorption</text>
<text class="pl" x="141.7" y="99.4">(a)</text>
<rect x="1360.7" y="34.8" width="1040.8" height="772.9" fill="none" stroke="#000" stroke-width="3.0"/>
<path d="M1360.7 807.7 v15 M1464.8 807.7 v7.8 M1568.9 807.7 v15 M1672.9 807.7 v7.8 M1777 807.7 v15 M1881.1 807.7 v7.8 M1985.2 807.7 v15 M2089.3 807.7 v7.8 M2193.3 807.7 v15 M2297.4 807.7 v7.8 M2401.5 807.7 v15 M1360.7 807.7 h-15 M1360.7 730.4 h-7.8 M1360.7 653.1 h-15 M1360.7 575.8 h-7.8 M1360.7 498.5 h-15 M1360.7 421.2 h-7.8 M1360.7 344 h-15 M1360.7 266.7 h-7.8 M1360.7 189.4 h-15 M1360.7 112.1 h-7.8 M1360.7 34.8 h-15" stroke="#000" stroke-width="3.0" fill="none"/>
<text x="1360.3" y="867.9" text-anchor="middle">400</text>
<text x="1568.5" y="867.9" text-anchor="middle">600</text>
<text x="1776.6" y="867.9" text-anchor="middle">800</text>
<text x="1984.8" y="867.9" text-anchor="middle">1000</text>
<text x="2192.9" y="867.9" text-anchor="middle">1200</text>
<text x="2401.1" y="867.9" text-anchor="middle">1400</text>
<text x="1335.3" y="820.9" text-anchor="end">0.0</text>
<text x="1335.3" y="666.3" text-anchor="end">0.2</text>
<text x="1335.3" y="511.7" text-anchor="end">0.4</text>
<text x="1335.3" y="357.2" text-anchor="end">0.6</text>
<text x="1335.3" y="202.6" text-anchor="end">0.8</text>
<text x="1335.3" y="48" text-anchor="end">1.0</text>
<text class="bd" transform="translate(1881.1 915.8) scale(.972 1)" text-anchor="middle">Wavelength(nm)</text>
<text class="bd" transform="translate(1272 421.2) rotate(-90) scale(.985 1)" text-anchor="middle">Absorption</text>
<text class="pl" x="1364.1" y="99.4">(b)</text>
<rect x="139.5" y="956.7" width="1040.8" height="772.9" fill="none" stroke="#000" stroke-width="3.0"/>
<path d="M139.5 1729.6 v15.6 M243.6 1729.6 v8.3 M347.7 1729.6 v15.6 M451.7 1729.6 v8.3 M555.8 1729.6 v15.6 M659.9 1729.6 v8.3 M764 1729.6 v15.6 M868.1 1729.6 v8.3 M972.1 1729.6 v15.6 M1076.2 1729.6 v8.3 M1180.3 1729.6 v15.6 M139.5 1729.6 h-15.6 M139.5 1652.3 h-8.3 M139.5 1575 h-15.6 M139.5 1497.7 h-8.3 M139.5 1420.4 h-15.6 M139.5 1343.1 h-8.3 M139.5 1265.9 h-15.6 M139.5 1188.6 h-8.3 M139.5 1111.3 h-15.6 M139.5 1034 h-8.3 M139.5 956.7 h-15.6" stroke="#000" stroke-width="3.0" fill="none"/>
<text x="139.1" y="1792.8" text-anchor="middle">400</text>
<text x="347.3" y="1792.8" text-anchor="middle">600</text>
<text x="555.4" y="1792.8" text-anchor="middle">800</text>
<text x="763.6" y="1792.8" text-anchor="middle">1000</text>
<text x="971.7" y="1792.8" text-anchor="middle">1200</text>
<text x="1179.9" y="1792.8" text-anchor="middle">1400</text>
<text x="114.1" y="1742.8" text-anchor="end">0.0</text>
<text x="114.1" y="1588.2" text-anchor="end">0.2</text>
<text x="114.1" y="1433.6" text-anchor="end">0.4</text>
<text x="114.1" y="1279.1" text-anchor="end">0.6</text>
<text x="114.1" y="1124.5" text-anchor="end">0.8</text>
<text x="114.1" y="969.9" text-anchor="end">1.0</text>
<text class="bd" transform="translate(659.9 1842.3) scale(.972 1)" text-anchor="middle">Wavelength(nm)</text>
<text class="bd" transform="translate(50.8 1344.3) rotate(-90) scale(.985 1)" text-anchor="middle">Absorption</text>
<text class="pl" x="298.7" y="1026.9">(c)</text>
<rect x="1360.7" y="956.7" width="1040.8" height="772.9" fill="none" stroke="#000" stroke-width="3.0"/>
<path d="M1360.7 1729.6 v15.6 M1464.8 1729.6 v8.3 M1568.9 1729.6 v15.6 M1672.9 1729.6 v8.3 M1777 1729.6 v15.6 M1881.1 1729.6 v8.3 M1985.2 1729.6 v15.6 M2089.3 1729.6 v8.3 M2193.3 1729.6 v15.6 M2297.4 1729.6 v8.3 M2401.5 1729.6 v15.6 M1360.7 1729.6 h-15.6 M1360.7 1652.3 h-8.3 M1360.7 1575 h-15.6 M1360.7 1497.7 h-8.3 M1360.7 1420.4 h-15.6 M1360.7 1343.1 h-8.3 M1360.7 1265.9 h-15.6 M1360.7 1188.6 h-8.3 M1360.7 1111.3 h-15.6 M1360.7 1034 h-8.3 M1360.7 956.7 h-15.6" stroke="#000" stroke-width="3.0" fill="none"/>
<text x="1360.3" y="1792.8" text-anchor="middle">400</text>
<text x="1568.5" y="1792.8" text-anchor="middle">600</text>
<text x="1776.6" y="1792.8" text-anchor="middle">800</text>
<text x="1984.8" y="1792.8" text-anchor="middle">1000</text>
<text x="2192.9" y="1792.8" text-anchor="middle">1200</text>
<text x="2401.1" y="1792.8" text-anchor="middle">1400</text>
<text x="1335.3" y="1742.8" text-anchor="end">0.0</text>
<text x="1335.3" y="1588.2" text-anchor="end">0.2</text>
<text x="1335.3" y="1433.6" text-anchor="end">0.4</text>
<text x="1335.3" y="1279.1" text-anchor="end">0.6</text>
<text x="1335.3" y="1124.5" text-anchor="end">0.8</text>
<text x="1335.3" y="969.9" text-anchor="end">1.0</text>
<text class="bd" transform="translate(1881.1 1842.3) scale(.972 1)" text-anchor="middle">Wavelength(nm)</text>
<text class="bd" transform="translate(1272 1344.3) rotate(-90) scale(.985 1)" text-anchor="middle">Absorption</text>
<text class="pl" x="1364.3" y="1026.9">(d)</text>
<path d="M836.4 423.9 H976.5" stroke="#000000" stroke-width="7.2" fill="none" stroke-linecap="round" stroke-dasharray="4.6 40.2"/>
<text transform="translate(987.5 438.7) scale(.977 1)">A=35nm</text>
<path d="M836.4 478.8 H976.5" stroke="#ff0000" stroke-width="7.2" fill="none" stroke-linecap="round" stroke-dasharray="31.7 43.5"/>
<text transform="translate(987.5 493.6) scale(.977 1)">A=45nm</text>
<path d="M836.4 533.7 H976.5" stroke="#0000ff" stroke-width="7.2" fill="none" stroke-linecap="round"/>
<text transform="translate(987.5 548.5) scale(.977 1)">A=55nm</text>
<path d="M836.4 588.6 H976.5" stroke="#008080" stroke-width="7.2" fill="none" stroke-linecap="round" stroke-dasharray="39.2 25.3 5.2 25.4"/>
<text transform="translate(987.5 603.4) scale(.977 1)">A=65nm</text>
<path d="M836.4 643.5 H976.5" stroke="#ff00ff" stroke-width="7.2" fill="none" stroke-linecap="round" stroke-dasharray="28.2 25.3 5.2 25.4 5.2 25.4"/>
<text transform="translate(987.5 658.3) scale(.977 1)">A=75nm</text>
<path d="M1992.4 382.9 H2132.5" stroke="#000000" stroke-width="7.2" fill="none" stroke-linecap="round" stroke-dasharray="31.7 43.5"/>
<text transform="translate(2144 398.2) scale(.977 1)">H<tspan class="sb" dy="13.5">5</tspan><tspan dy="-13.5">=75nm</tspan></text>
<path d="M1992.4 449.6 H2132.5" stroke="#ff0000" stroke-width="7.2" fill="none" stroke-linecap="round"/>
<text transform="translate(2144 464.9) scale(.977 1)">H<tspan class="sb" dy="13.5">5</tspan><tspan dy="-13.5">=95nm</tspan></text>
<path d="M1992.4 516.3 H2132.5" stroke="#0000ff" stroke-width="7.2" fill="none" stroke-linecap="round" stroke-dasharray="4.6 40.2"/>
<text transform="translate(2144 531.6) scale(.977 1)">H<tspan class="sb" dy="13.5">5</tspan><tspan dy="-13.5">=115nm</tspan></text>
<path d="M1992.4 583 H2132.5" stroke="#008080" stroke-width="7.2" fill="none" stroke-linecap="round" stroke-dasharray="39.2 25.3 5.2 25.4"/>
<text transform="translate(2144 598.3) scale(.977 1)">H<tspan class="sb" dy="13.5">5</tspan><tspan dy="-13.5">=135nm</tspan></text>
<path d="M1992.4 649.7 H2132.5" stroke="#ff00ff" stroke-width="7.2" fill="none" stroke-linecap="round" stroke-dasharray="28.2 25.3 5.2 25.4 5.2 25.4"/>
<text transform="translate(2144 665) scale(.977 1)">H<tspan class="sb" dy="13.5">5</tspan><tspan dy="-13.5">=155nm</tspan></text>
<path d="M853 1230.4 H992.3" stroke="#000000" stroke-width="8.0" fill="none" stroke-linecap="round"/>
<text transform="translate(1004 1244.6) scale(.977 1)">r<tspan class="sb" dy="13.5">1</tspan><tspan dy="-13.5">=50nm</tspan></text>
<path d="M852.6 1297 H992.7" stroke="#ff0000" stroke-width="7.2" fill="none" stroke-linecap="round" stroke-dasharray="31.7 43.5"/>
<text transform="translate(1004 1311.2) scale(.977 1)">r<tspan class="sb" dy="13.5">1</tspan><tspan dy="-13.5">=55nm</tspan></text>
<path d="M852.6 1363.6 H992.7" stroke="#0000ff" stroke-width="7.2" fill="none" stroke-linecap="round" stroke-dasharray="4.6 40.2"/>
<text transform="translate(1004 1377.8) scale(.977 1)">r<tspan class="sb" dy="13.5">1</tspan><tspan dy="-13.5">=60nm</tspan></text>
<path d="M852.6 1430.2 H992.7" stroke="#008080" stroke-width="7.2" fill="none" stroke-linecap="round" stroke-dasharray="39.2 25.3 5.2 25.4"/>
<text transform="translate(1004 1444.4) scale(.977 1)">r<tspan class="sb" dy="13.5">1</tspan><tspan dy="-13.5">=65nm</tspan></text>
<path d="M852.6 1496.8 H992.7" stroke="#ff00ff" stroke-width="7.2" fill="none" stroke-linecap="round" stroke-dasharray="28.2 25.3 5.2 25.4 5.2 25.4"/>
<text transform="translate(1004 1511) scale(.977 1)">r<tspan class="sb" dy="13.5">1</tspan><tspan dy="-13.5">=70nm</tspan></text>
<path d="M2011.9 1225 H2152" stroke="#000000" stroke-width="7.2" fill="none" stroke-linecap="round" stroke-dasharray="4.6 40.2"/>
<text transform="translate(2163.5 1240) scale(.977 1)">H<tspan class="sb" dy="13.5">2</tspan><tspan dy="-13.5">=160nm</tspan></text>
<path d="M2011.9 1291.6 H2152" stroke="#ff0000" stroke-width="7.2" fill="none" stroke-linecap="round" stroke-dasharray="31.7 43.5"/>
<text transform="translate(2163.5 1306.6) scale(.977 1)">H<tspan class="sb" dy="13.5">2</tspan><tspan dy="-13.5">=180nm</tspan></text>
<path d="M2011.9 1358.2 H2152" stroke="#0000ff" stroke-width="7.2" fill="none" stroke-linecap="round"/>
<text transform="translate(2163.5 1373.2) scale(.977 1)">H<tspan class="sb" dy="13.5">2</tspan><tspan dy="-13.5">=200nm</tspan></text>
<path d="M2011.9 1424.8 H2152" stroke="#008080" stroke-width="7.2" fill="none" stroke-linecap="round" stroke-dasharray="39.2 25.3 5.2 25.4"/>
<text transform="translate(2163.5 1439.8) scale(.977 1)">H<tspan class="sb" dy="13.5">2</tspan><tspan dy="-13.5">=220nm</tspan></text>
<path d="M2011.9 1491.4 H2152" stroke="#ff00ff" stroke-width="7.2" fill="none" stroke-linecap="round" stroke-dasharray="28.2 25.3 5.2 25.4 5.2 25.4"/>
<text transform="translate(2163.5 1506.4) scale(.977 1)">H<tspan class="sb" dy="13.5">2</tspan><tspan dy="-13.5">=240nm</tspan></text>
</g>
</svg>
</body></html>
